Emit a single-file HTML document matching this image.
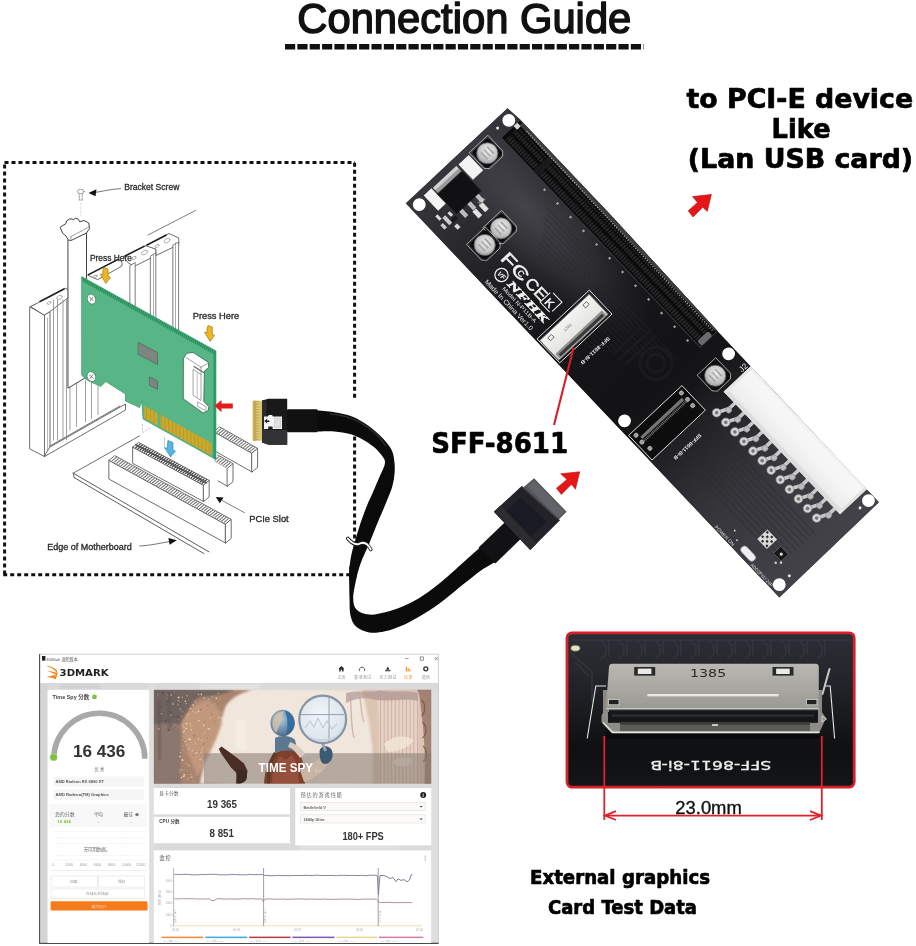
<!DOCTYPE html>
<html lang="en">
<head>
<meta charset="utf-8">
<title>Connection Guide</title>
<style>
html,body{margin:0;padding:0;background:#fff;}
body{width:916px;height:946px;overflow:hidden;font-family:"Liberation Sans","Noto Sans CJK SC",sans-serif;}
svg{display:block;will-change:transform;}
text{font-family:"Liberation Sans","Noto Sans CJK SC",sans-serif;}
.dj{font-family:"DejaVu Sans","Liberation Sans",sans-serif;font-weight:bold;}
</style>
</head>
<body>
<svg width="916" height="946" viewBox="0 0 916 946">
<rect x="0" y="0" width="916" height="946" fill="#ffffff"/>
<g id="box">
<g id="illus" stroke-linecap="round">
<line x1="148.0" y1="235.0" x2="195.5" y2="210.5" stroke="#5e5e5e" stroke-width="0.8" />
<polygon points="73.2,473.2 139.3,436.0 150.0,441.0 84.0,479.0" fill="#fff" stroke="none" stroke-width="0.9" stroke-linejoin="round" />
<line x1="73.2" y1="473.2" x2="139.3" y2="436.0" stroke="#5e5e5e" stroke-width="0.9" />
<line x1="73.2" y1="473.2" x2="208.9" y2="551.8" stroke="#5e5e5e" stroke-width="1.0" />
<line x1="74.2" y1="477.6" x2="204.0" y2="553.6" stroke="#5e5e5e" stroke-width="1.0" />
<line x1="73.2" y1="473.2" x2="74.2" y2="477.6" stroke="#5e5e5e" stroke-width="0.9" />
<polygon points="214.0,431.5 252.0,453.0 252.0,472.0 214.0,450.5" fill="#fff" stroke="#5e5e5e" stroke-width="0.9" stroke-linejoin="round" />
<polygon points="214.0,431.5 219.6,426.9 257.6,448.4 252.0,453.0" fill="#fff" stroke="#5e5e5e" stroke-width="0.9" stroke-linejoin="round" />
<polygon points="252.0,453.0 257.6,448.4 257.6,467.4 252.0,472.0" fill="#fff" stroke="#5e5e5e" stroke-width="0.9" stroke-linejoin="round" />
<line x1="216.8" y1="432.3" x2="221.2" y2="428.7" stroke="#707070" stroke-width="1.05" />
<line x1="219.1" y1="433.5" x2="223.5" y2="429.9" stroke="#707070" stroke-width="1.05" />
<line x1="221.3" y1="434.8" x2="225.7" y2="431.2" stroke="#707070" stroke-width="1.05" />
<line x1="223.5" y1="436.1" x2="227.9" y2="432.5" stroke="#707070" stroke-width="1.05" />
<line x1="225.8" y1="437.3" x2="230.2" y2="433.7" stroke="#707070" stroke-width="1.05" />
<line x1="228.0" y1="438.6" x2="232.4" y2="435.0" stroke="#707070" stroke-width="1.05" />
<line x1="230.2" y1="439.9" x2="234.6" y2="436.3" stroke="#707070" stroke-width="1.05" />
<line x1="232.5" y1="441.1" x2="236.9" y2="437.5" stroke="#707070" stroke-width="1.05" />
<line x1="234.7" y1="442.4" x2="239.1" y2="438.8" stroke="#707070" stroke-width="1.05" />
<line x1="237.0" y1="443.6" x2="241.4" y2="440.0" stroke="#707070" stroke-width="1.05" />
<line x1="239.2" y1="444.9" x2="243.6" y2="441.3" stroke="#707070" stroke-width="1.05" />
<line x1="241.4" y1="446.2" x2="245.8" y2="442.6" stroke="#707070" stroke-width="1.05" />
<line x1="243.7" y1="447.4" x2="248.1" y2="443.8" stroke="#707070" stroke-width="1.05" />
<line x1="245.9" y1="448.7" x2="250.3" y2="445.1" stroke="#707070" stroke-width="1.05" />
<line x1="248.1" y1="450.0" x2="252.5" y2="446.4" stroke="#707070" stroke-width="1.05" />
<line x1="250.4" y1="451.2" x2="254.8" y2="447.6" stroke="#707070" stroke-width="1.05" />
<polygon points="212.0,459.5 227.4,468.2 227.4,486.2 212.0,477.5" fill="#fff" stroke="none" stroke-width="0.9" stroke-linejoin="round" />
<line x1="215.0" y1="461.2" x2="227.4" y2="468.2" stroke="#5e5e5e" stroke-width="0.9" />
<line x1="218.0" y1="480.9" x2="227.4" y2="486.2" stroke="#5e5e5e" stroke-width="0.9" />
<polygon points="212.0,459.5 217.6,454.9 233.0,463.6 227.4,468.2" fill="#fff" stroke="none" stroke-width="0.9" stroke-linejoin="round" />
<line x1="217.6" y1="454.9" x2="233.0" y2="463.6" stroke="#5e5e5e" stroke-width="0.9" />
<polygon points="227.4,468.2 233.0,463.6 233.0,481.6 227.4,486.2" fill="#fff" stroke="#5e5e5e" stroke-width="0.9" stroke-linejoin="round" />
<line x1="214.8" y1="460.2" x2="219.2" y2="456.6" stroke="#707070" stroke-width="1.05" />
<line x1="217.0" y1="461.5" x2="221.4" y2="457.9" stroke="#707070" stroke-width="1.05" />
<line x1="219.2" y1="462.7" x2="223.6" y2="459.1" stroke="#707070" stroke-width="1.05" />
<line x1="221.4" y1="464.0" x2="225.8" y2="460.4" stroke="#707070" stroke-width="1.05" />
<line x1="223.6" y1="465.2" x2="228.0" y2="461.6" stroke="#707070" stroke-width="1.05" />
<line x1="225.8" y1="466.5" x2="230.2" y2="462.9" stroke="#707070" stroke-width="1.05" />
<polygon points="133.0,447.0 203.6,485.0 203.6,501.5 133.0,463.5" fill="#fff" stroke="#5e5e5e" stroke-width="0.9" stroke-linejoin="round" />
<polygon points="133.0,447.0 138.6,442.4 209.2,480.4 203.6,485.0" fill="#fff" stroke="#5e5e5e" stroke-width="0.9" stroke-linejoin="round" />
<polygon points="203.6,485.0 209.2,480.4 209.2,496.9 203.6,501.5" fill="#fff" stroke="#5e5e5e" stroke-width="0.9" stroke-linejoin="round" />
<line x1="135.7" y1="447.7" x2="140.1" y2="444.1" stroke="#3a3a3a" stroke-width="1.2" />
<line x1="137.9" y1="448.8" x2="142.3" y2="445.2" stroke="#3a3a3a" stroke-width="1.2" />
<line x1="140.0" y1="450.0" x2="144.4" y2="446.4" stroke="#3a3a3a" stroke-width="1.2" />
<line x1="142.2" y1="451.1" x2="146.6" y2="447.5" stroke="#3a3a3a" stroke-width="1.2" />
<line x1="144.3" y1="452.3" x2="148.7" y2="448.7" stroke="#3a3a3a" stroke-width="1.2" />
<line x1="146.4" y1="453.4" x2="150.8" y2="449.8" stroke="#3a3a3a" stroke-width="1.2" />
<line x1="148.6" y1="454.6" x2="153.0" y2="451.0" stroke="#3a3a3a" stroke-width="1.2" />
<line x1="150.7" y1="455.7" x2="155.1" y2="452.1" stroke="#3a3a3a" stroke-width="1.2" />
<line x1="152.9" y1="456.9" x2="157.3" y2="453.3" stroke="#3a3a3a" stroke-width="1.2" />
<line x1="155.0" y1="458.0" x2="159.4" y2="454.4" stroke="#3a3a3a" stroke-width="1.2" />
<line x1="157.1" y1="459.2" x2="161.5" y2="455.6" stroke="#3a3a3a" stroke-width="1.2" />
<line x1="159.3" y1="460.3" x2="163.7" y2="456.7" stroke="#3a3a3a" stroke-width="1.2" />
<line x1="161.4" y1="461.5" x2="165.8" y2="457.9" stroke="#3a3a3a" stroke-width="1.2" />
<line x1="163.6" y1="462.6" x2="168.0" y2="459.0" stroke="#3a3a3a" stroke-width="1.2" />
<line x1="165.7" y1="463.8" x2="170.1" y2="460.2" stroke="#3a3a3a" stroke-width="1.2" />
<line x1="167.8" y1="464.9" x2="172.2" y2="461.3" stroke="#3a3a3a" stroke-width="1.2" />
<line x1="170.0" y1="466.1" x2="174.4" y2="462.5" stroke="#3a3a3a" stroke-width="1.2" />
<line x1="172.1" y1="467.2" x2="176.5" y2="463.6" stroke="#3a3a3a" stroke-width="1.2" />
<line x1="174.2" y1="468.4" x2="178.6" y2="464.8" stroke="#3a3a3a" stroke-width="1.2" />
<line x1="176.4" y1="469.5" x2="180.8" y2="465.9" stroke="#3a3a3a" stroke-width="1.2" />
<line x1="178.5" y1="470.7" x2="182.9" y2="467.1" stroke="#3a3a3a" stroke-width="1.2" />
<line x1="180.7" y1="471.8" x2="185.1" y2="468.2" stroke="#3a3a3a" stroke-width="1.2" />
<line x1="182.8" y1="473.0" x2="187.2" y2="469.4" stroke="#3a3a3a" stroke-width="1.2" />
<line x1="184.9" y1="474.1" x2="189.3" y2="470.5" stroke="#3a3a3a" stroke-width="1.2" />
<line x1="187.1" y1="475.3" x2="191.5" y2="471.7" stroke="#3a3a3a" stroke-width="1.2" />
<line x1="189.2" y1="476.4" x2="193.6" y2="472.8" stroke="#3a3a3a" stroke-width="1.2" />
<line x1="191.4" y1="477.6" x2="195.8" y2="474.0" stroke="#3a3a3a" stroke-width="1.2" />
<line x1="193.5" y1="478.7" x2="197.9" y2="475.1" stroke="#3a3a3a" stroke-width="1.2" />
<line x1="195.6" y1="479.9" x2="200.0" y2="476.3" stroke="#3a3a3a" stroke-width="1.2" />
<line x1="197.8" y1="481.0" x2="202.2" y2="477.4" stroke="#3a3a3a" stroke-width="1.2" />
<line x1="199.9" y1="482.2" x2="204.3" y2="478.6" stroke="#3a3a3a" stroke-width="1.2" />
<line x1="202.1" y1="483.3" x2="206.5" y2="479.7" stroke="#3a3a3a" stroke-width="1.2" />
<line x1="135.8" y1="444.7" x2="206.4" y2="482.7" stroke="#555" stroke-width="1.6" />
<polygon points="109.2,460.2 225.6,524.0 225.6,543.0 109.2,479.2" fill="#fff" stroke="#5e5e5e" stroke-width="0.9" stroke-linejoin="round" />
<polygon points="109.2,460.2 114.8,455.6 231.2,519.4 225.6,524.0" fill="#fff" stroke="#5e5e5e" stroke-width="0.9" stroke-linejoin="round" />
<polygon points="225.6,524.0 231.2,519.4 231.2,538.4 225.6,543.0" fill="#fff" stroke="#5e5e5e" stroke-width="0.9" stroke-linejoin="round" />
<line x1="112.0" y1="460.9" x2="116.4" y2="457.3" stroke="#707070" stroke-width="1.05" />
<line x1="114.3" y1="462.2" x2="118.7" y2="458.6" stroke="#707070" stroke-width="1.05" />
<line x1="116.5" y1="463.4" x2="120.9" y2="459.8" stroke="#707070" stroke-width="1.05" />
<line x1="118.8" y1="464.6" x2="123.2" y2="461.0" stroke="#707070" stroke-width="1.05" />
<line x1="121.0" y1="465.8" x2="125.4" y2="462.2" stroke="#707070" stroke-width="1.05" />
<line x1="123.2" y1="467.1" x2="127.6" y2="463.5" stroke="#707070" stroke-width="1.05" />
<line x1="125.5" y1="468.3" x2="129.9" y2="464.7" stroke="#707070" stroke-width="1.05" />
<line x1="127.7" y1="469.5" x2="132.1" y2="465.9" stroke="#707070" stroke-width="1.05" />
<line x1="129.9" y1="470.7" x2="134.3" y2="467.1" stroke="#707070" stroke-width="1.05" />
<line x1="132.2" y1="472.0" x2="136.6" y2="468.4" stroke="#707070" stroke-width="1.05" />
<line x1="134.4" y1="473.2" x2="138.8" y2="469.6" stroke="#707070" stroke-width="1.05" />
<line x1="136.7" y1="474.4" x2="141.1" y2="470.8" stroke="#707070" stroke-width="1.05" />
<line x1="138.9" y1="475.6" x2="143.3" y2="472.0" stroke="#707070" stroke-width="1.05" />
<line x1="141.1" y1="476.9" x2="145.5" y2="473.3" stroke="#707070" stroke-width="1.05" />
<line x1="143.4" y1="478.1" x2="147.8" y2="474.5" stroke="#707070" stroke-width="1.05" />
<line x1="145.6" y1="479.3" x2="150.0" y2="475.7" stroke="#707070" stroke-width="1.05" />
<line x1="147.9" y1="480.6" x2="152.3" y2="477.0" stroke="#707070" stroke-width="1.05" />
<line x1="150.1" y1="481.8" x2="154.5" y2="478.2" stroke="#707070" stroke-width="1.05" />
<line x1="152.3" y1="483.0" x2="156.7" y2="479.4" stroke="#707070" stroke-width="1.05" />
<line x1="154.6" y1="484.2" x2="159.0" y2="480.6" stroke="#707070" stroke-width="1.05" />
<line x1="156.8" y1="485.5" x2="161.2" y2="481.9" stroke="#707070" stroke-width="1.05" />
<line x1="159.0" y1="486.7" x2="163.4" y2="483.1" stroke="#707070" stroke-width="1.05" />
<line x1="161.3" y1="487.9" x2="165.7" y2="484.3" stroke="#707070" stroke-width="1.05" />
<line x1="163.5" y1="489.1" x2="167.9" y2="485.5" stroke="#707070" stroke-width="1.05" />
<line x1="165.8" y1="490.4" x2="170.2" y2="486.8" stroke="#707070" stroke-width="1.05" />
<line x1="168.0" y1="491.6" x2="172.4" y2="488.0" stroke="#707070" stroke-width="1.05" />
<line x1="170.2" y1="492.8" x2="174.6" y2="489.2" stroke="#707070" stroke-width="1.05" />
<line x1="172.5" y1="494.1" x2="176.9" y2="490.5" stroke="#707070" stroke-width="1.05" />
<line x1="174.7" y1="495.3" x2="179.1" y2="491.7" stroke="#707070" stroke-width="1.05" />
<line x1="177.0" y1="496.5" x2="181.4" y2="492.9" stroke="#707070" stroke-width="1.05" />
<line x1="179.2" y1="497.7" x2="183.6" y2="494.1" stroke="#707070" stroke-width="1.05" />
<line x1="181.4" y1="499.0" x2="185.8" y2="495.4" stroke="#707070" stroke-width="1.05" />
<line x1="183.7" y1="500.2" x2="188.1" y2="496.6" stroke="#707070" stroke-width="1.05" />
<line x1="185.9" y1="501.4" x2="190.3" y2="497.8" stroke="#707070" stroke-width="1.05" />
<line x1="188.1" y1="502.6" x2="192.5" y2="499.0" stroke="#707070" stroke-width="1.05" />
<line x1="190.4" y1="503.9" x2="194.8" y2="500.3" stroke="#707070" stroke-width="1.05" />
<line x1="192.6" y1="505.1" x2="197.0" y2="501.5" stroke="#707070" stroke-width="1.05" />
<line x1="194.9" y1="506.3" x2="199.3" y2="502.7" stroke="#707070" stroke-width="1.05" />
<line x1="197.1" y1="507.6" x2="201.5" y2="503.9" stroke="#707070" stroke-width="1.05" />
<line x1="199.3" y1="508.8" x2="203.7" y2="505.2" stroke="#707070" stroke-width="1.05" />
<line x1="201.6" y1="510.0" x2="206.0" y2="506.4" stroke="#707070" stroke-width="1.05" />
<line x1="203.8" y1="511.2" x2="208.2" y2="507.6" stroke="#707070" stroke-width="1.05" />
<line x1="206.1" y1="512.5" x2="210.5" y2="508.9" stroke="#707070" stroke-width="1.05" />
<line x1="208.3" y1="513.7" x2="212.7" y2="510.1" stroke="#707070" stroke-width="1.05" />
<line x1="210.5" y1="514.9" x2="214.9" y2="511.3" stroke="#707070" stroke-width="1.05" />
<line x1="212.8" y1="516.1" x2="217.2" y2="512.5" stroke="#707070" stroke-width="1.05" />
<line x1="215.0" y1="517.4" x2="219.4" y2="513.8" stroke="#707070" stroke-width="1.05" />
<line x1="217.2" y1="518.6" x2="221.6" y2="515.0" stroke="#707070" stroke-width="1.05" />
<line x1="219.5" y1="519.8" x2="223.9" y2="516.2" stroke="#707070" stroke-width="1.05" />
<line x1="221.7" y1="521.0" x2="226.1" y2="517.4" stroke="#707070" stroke-width="1.05" />
<line x1="224.0" y1="522.3" x2="228.4" y2="518.7" stroke="#707070" stroke-width="1.05" />
<polygon points="30.0,307.0 35.5,304.0 50.0,311.5 50.0,452.0 44.5,456.5 30.0,449.0" fill="#fff" stroke="#5e5e5e" stroke-width="0.9" stroke-linejoin="round" />
<line x1="44.5" y1="315.0" x2="44.5" y2="456.5" stroke="#5e5e5e" stroke-width="0.9" />
<line x1="30.0" y1="307.0" x2="44.5" y2="315.0" stroke="#5e5e5e" stroke-width="0.9" />
<line x1="44.5" y1="315.0" x2="50.0" y2="311.5" stroke="#5e5e5e" stroke-width="0.9" />
<line x1="47.5" y1="318.0" x2="47.5" y2="452.0" stroke="#999" stroke-width="0.7" />
<polygon points="44.5,456.5 125.5,410.0 125.5,404.0 50.0,447.0" fill="#fff" stroke="#5e5e5e" stroke-width="0.9" stroke-linejoin="round" />
<line x1="50.0" y1="446.0" x2="120.0" y2="406.0" stroke="#5e5e5e" stroke-width="0.9" />
<polygon points="31.0,306.5 66.0,288.0 69.0,291.5 69.0,297.0 50.0,311.5 44.5,315.0" fill="#fff" stroke="#5e5e5e" stroke-width="0.9" stroke-linejoin="round" />
<line x1="40.0" y1="301.5" x2="64.0" y2="289.0" stroke="#222" stroke-width="1.5" />
<ellipse cx="59.5" cy="297.5" rx="3" ry="1.9" fill="#fff" stroke="#999" stroke-width="0.7" transform="rotate(-28 59.5 297.5)"/>
<ellipse cx="49" cy="303" rx="2" ry="1.2" fill="#fff" stroke="#999" stroke-width="0.7" transform="rotate(-28 49 303)"/>
<polygon points="88.0,275.0 118.5,259.5 122.0,262.0 122.0,266.0 98.0,279.5" fill="#fff" stroke="#5e5e5e" stroke-width="0.9" stroke-linejoin="round" />
<line x1="88.5" y1="274.6" x2="118.0" y2="259.4" stroke="#222" stroke-width="1.6" />
<ellipse cx="95" cy="276.5" rx="2.2" ry="1.2" fill="#fff" stroke="#888" stroke-width="0.7" transform="rotate(-28 95 276.5)"/>
<polygon points="124.0,256.5 147.0,245.0 156.0,249.5 156.0,255.5 135.0,266.0 129.0,263.5" fill="#fff" stroke="#5e5e5e" stroke-width="0.9" stroke-linejoin="round" />
<line x1="125.0" y1="256.0" x2="144.0" y2="246.4" stroke="#222" stroke-width="1.6" />
<ellipse cx="144.5" cy="252.5" rx="3.2" ry="2" fill="#fff" stroke="#999" stroke-width="0.7" transform="rotate(-28 144.5 252.5)"/>
<ellipse cx="134" cy="258" rx="2.2" ry="1.3" fill="#fff" stroke="#999" stroke-width="0.7" transform="rotate(-28 134 258)"/>
<polygon points="146.0,245.5 169.0,233.5 178.8,238.0 178.8,244.5 156.0,255.5 156.0,249.5" fill="#fff" stroke="#5e5e5e" stroke-width="0.9" stroke-linejoin="round" />
<line x1="147.0" y1="245.0" x2="166.0" y2="235.2" stroke="#222" stroke-width="1.6" />
<ellipse cx="167" cy="240.6" rx="3.2" ry="2" fill="#fff" stroke="#999" stroke-width="0.7" transform="rotate(-28 167 240.6)"/>
<ellipse cx="157" cy="246" rx="2.2" ry="1.3" fill="#fff" stroke="#999" stroke-width="0.7" transform="rotate(-28 157 246)"/>
<polygon points="130.2,265.5 135.2,262.5 135.2,309.0 130.2,306.2" fill="#fff" stroke="#5e5e5e" stroke-width="0.8" stroke-linejoin="round" />
<polygon points="150.7,256.0 155.8,253.0 155.8,320.4 150.7,317.5" fill="#fff" stroke="#5e5e5e" stroke-width="0.8" stroke-linejoin="round" />
<polygon points="173.2,245.0 178.6,242.0 178.6,333.0 173.2,330.0" fill="#fff" stroke="#5e5e5e" stroke-width="0.8" stroke-linejoin="round" />
<line x1="175.5" y1="243.0" x2="175.5" y2="330.0" stroke="#888" stroke-width="0.7" />
<line x1="153.5" y1="255.0" x2="153.5" y2="318.0" stroke="#888" stroke-width="0.7" />
<line x1="53.5" y1="300.0" x2="53.5" y2="440.0" stroke="#888" stroke-width="0.8" />
<line x1="57.5" y1="300.0" x2="57.5" y2="440.0" stroke="#888" stroke-width="0.8" />
<line x1="63.0" y1="300.0" x2="63.0" y2="440.0" stroke="#888" stroke-width="0.8" />
<line x1="66.5" y1="300.0" x2="66.5" y2="440.0" stroke="#888" stroke-width="0.8" />
<line x1="70.0" y1="380.0" x2="70.0" y2="430.0" stroke="#888" stroke-width="0.8" />
<line x1="76.5" y1="380.0" x2="76.5" y2="426.4" stroke="#888" stroke-width="0.8" />
<line x1="85.5" y1="380.0" x2="85.5" y2="421.5" stroke="#888" stroke-width="0.8" />
<line x1="91.5" y1="380.0" x2="91.5" y2="418.2" stroke="#888" stroke-width="0.8" />
<line x1="98.0" y1="380.0" x2="98.0" y2="414.6" stroke="#888" stroke-width="0.8" />
<polygon points="68.3,240.0 86.5,233.0 86.5,377.0 80.0,381.0 68.3,388.0" fill="#fff" stroke="#444" stroke-width="1.0" stroke-linejoin="round" />
<path d="M60.5,227 L66,223.5 L66.5,221 L70,218.8 L73.5,219.5 L75.5,218.2 L78.5,219.3 L79.5,221.8 L84,220.5 L88.8,223 L89.5,228.5 L86.5,233 L71,240.5 L68.3,240 L66,236 L63,233.5 Z" fill="#fff" stroke="#444" stroke-width="1"/>
<line x1="71.0" y1="240.5" x2="71.0" y2="236.5" stroke="#777" stroke-width="0.7" />
<line x1="71.0" y1="236.5" x2="89.0" y2="227.0" stroke="#777" stroke-width="0.7" />
<ellipse cx="80.8" cy="191.5" rx="3.3" ry="2.2" fill="#fff" stroke="#888" stroke-width="0.8"/>
<path d="M79.3,193.5 V200 M82.3,193.5 V200 M79.3,200 H82.3" fill="none" stroke="#999" stroke-width="0.8"/>
<line x1="80.8" y1="203.0" x2="80.8" y2="216.0" stroke="#ccc" stroke-width="0.7" stroke-dasharray="2 2"/>
<path d="M120.5,188.6 C112,189 104,191 96,192.3" fill="none" stroke="#555" stroke-width="0.8"/>
<polygon points="88.5,193 96.5,189.3 95.5,196.3" fill="#111"/>
<polygon points="81.9,276.8 215.9,350.9 215.9,459.5 143.1,419.0 141.9,401.5 139.5,407.5 125.5,401.0 125.5,394.0 105.8,381.5 100.8,386.5 88.0,380.5 81.9,375.5" fill="#58b585" stroke="#3f9f72" stroke-width="0.8" stroke-linejoin="round" />
<polygon points="81.9,276.8 215.9,350.9 215.9,355.9 81.9,281.8" fill="#48b07c" stroke="none" stroke-width="0.9" stroke-linejoin="round" />
<line x1="83.0" y1="278.0" x2="84.2" y2="282.0" stroke="#2a8c58" stroke-width="1.1" />
<line x1="85.2" y1="279.2" x2="86.4" y2="283.2" stroke="#2a8c58" stroke-width="1.1" />
<line x1="87.3" y1="280.4" x2="88.5" y2="284.4" stroke="#2a8c58" stroke-width="1.1" />
<line x1="89.5" y1="281.6" x2="90.7" y2="285.6" stroke="#2a8c58" stroke-width="1.1" />
<line x1="91.6" y1="282.8" x2="92.8" y2="286.8" stroke="#2a8c58" stroke-width="1.1" />
<line x1="93.8" y1="284.0" x2="95.0" y2="288.0" stroke="#2a8c58" stroke-width="1.1" />
<line x1="95.9" y1="285.1" x2="97.1" y2="289.1" stroke="#2a8c58" stroke-width="1.1" />
<line x1="98.0" y1="286.3" x2="99.2" y2="290.3" stroke="#2a8c58" stroke-width="1.1" />
<line x1="100.2" y1="287.5" x2="101.4" y2="291.5" stroke="#2a8c58" stroke-width="1.1" />
<line x1="102.3" y1="288.7" x2="103.5" y2="292.7" stroke="#2a8c58" stroke-width="1.1" />
<line x1="104.5" y1="289.9" x2="105.7" y2="293.9" stroke="#2a8c58" stroke-width="1.1" />
<line x1="106.7" y1="291.1" x2="107.9" y2="295.1" stroke="#2a8c58" stroke-width="1.1" />
<line x1="108.8" y1="292.3" x2="110.0" y2="296.3" stroke="#2a8c58" stroke-width="1.1" />
<line x1="111.0" y1="293.5" x2="112.2" y2="297.5" stroke="#2a8c58" stroke-width="1.1" />
<line x1="113.1" y1="294.7" x2="114.3" y2="298.7" stroke="#2a8c58" stroke-width="1.1" />
<line x1="115.2" y1="295.8" x2="116.5" y2="299.8" stroke="#2a8c58" stroke-width="1.1" />
<line x1="117.4" y1="297.0" x2="118.6" y2="301.0" stroke="#2a8c58" stroke-width="1.1" />
<line x1="119.5" y1="298.2" x2="120.8" y2="302.2" stroke="#2a8c58" stroke-width="1.1" />
<line x1="121.7" y1="299.4" x2="122.9" y2="303.4" stroke="#2a8c58" stroke-width="1.1" />
<line x1="123.8" y1="300.6" x2="125.0" y2="304.6" stroke="#2a8c58" stroke-width="1.1" />
<line x1="126.0" y1="301.8" x2="127.2" y2="305.8" stroke="#2a8c58" stroke-width="1.1" />
<line x1="128.2" y1="303.0" x2="129.3" y2="307.0" stroke="#2a8c58" stroke-width="1.1" />
<line x1="130.3" y1="304.2" x2="131.5" y2="308.2" stroke="#2a8c58" stroke-width="1.1" />
<line x1="132.4" y1="305.4" x2="133.6" y2="309.4" stroke="#2a8c58" stroke-width="1.1" />
<line x1="134.6" y1="306.5" x2="135.8" y2="310.5" stroke="#2a8c58" stroke-width="1.1" />
<line x1="136.8" y1="307.7" x2="137.9" y2="311.7" stroke="#2a8c58" stroke-width="1.1" />
<line x1="138.9" y1="308.9" x2="140.1" y2="312.9" stroke="#2a8c58" stroke-width="1.1" />
<line x1="141.1" y1="310.1" x2="142.2" y2="314.1" stroke="#2a8c58" stroke-width="1.1" />
<line x1="143.2" y1="311.3" x2="144.4" y2="315.3" stroke="#2a8c58" stroke-width="1.1" />
<line x1="145.3" y1="312.5" x2="146.5" y2="316.5" stroke="#2a8c58" stroke-width="1.1" />
<line x1="147.5" y1="313.7" x2="148.7" y2="317.7" stroke="#2a8c58" stroke-width="1.1" />
<line x1="149.6" y1="314.9" x2="150.8" y2="318.9" stroke="#2a8c58" stroke-width="1.1" />
<line x1="151.8" y1="316.1" x2="153.0" y2="320.1" stroke="#2a8c58" stroke-width="1.1" />
<line x1="153.9" y1="317.2" x2="155.1" y2="321.2" stroke="#2a8c58" stroke-width="1.1" />
<line x1="156.1" y1="318.4" x2="157.3" y2="322.4" stroke="#2a8c58" stroke-width="1.1" />
<line x1="158.2" y1="319.6" x2="159.4" y2="323.6" stroke="#2a8c58" stroke-width="1.1" />
<line x1="160.4" y1="320.8" x2="161.6" y2="324.8" stroke="#2a8c58" stroke-width="1.1" />
<line x1="162.6" y1="322.0" x2="163.8" y2="326.0" stroke="#2a8c58" stroke-width="1.1" />
<line x1="164.7" y1="323.2" x2="165.9" y2="327.2" stroke="#2a8c58" stroke-width="1.1" />
<line x1="166.8" y1="324.4" x2="168.0" y2="328.4" stroke="#2a8c58" stroke-width="1.1" />
<line x1="169.0" y1="325.6" x2="170.2" y2="329.6" stroke="#2a8c58" stroke-width="1.1" />
<line x1="171.1" y1="326.8" x2="172.3" y2="330.8" stroke="#2a8c58" stroke-width="1.1" />
<line x1="173.3" y1="327.9" x2="174.5" y2="331.9" stroke="#2a8c58" stroke-width="1.1" />
<line x1="175.4" y1="329.1" x2="176.6" y2="333.1" stroke="#2a8c58" stroke-width="1.1" />
<line x1="177.6" y1="330.3" x2="178.8" y2="334.3" stroke="#2a8c58" stroke-width="1.1" />
<line x1="179.8" y1="331.5" x2="180.9" y2="335.5" stroke="#2a8c58" stroke-width="1.1" />
<line x1="181.9" y1="332.7" x2="183.1" y2="336.7" stroke="#2a8c58" stroke-width="1.1" />
<line x1="184.1" y1="333.9" x2="185.2" y2="337.9" stroke="#2a8c58" stroke-width="1.1" />
<line x1="186.2" y1="335.1" x2="187.4" y2="339.1" stroke="#2a8c58" stroke-width="1.1" />
<line x1="188.3" y1="336.3" x2="189.5" y2="340.3" stroke="#2a8c58" stroke-width="1.1" />
<line x1="190.5" y1="337.5" x2="191.7" y2="341.5" stroke="#2a8c58" stroke-width="1.1" />
<line x1="192.6" y1="338.6" x2="193.8" y2="342.6" stroke="#2a8c58" stroke-width="1.1" />
<line x1="194.8" y1="339.8" x2="196.0" y2="343.8" stroke="#2a8c58" stroke-width="1.1" />
<line x1="196.9" y1="341.0" x2="198.1" y2="345.0" stroke="#2a8c58" stroke-width="1.1" />
<line x1="199.1" y1="342.2" x2="200.3" y2="346.2" stroke="#2a8c58" stroke-width="1.1" />
<line x1="201.2" y1="343.4" x2="202.4" y2="347.4" stroke="#2a8c58" stroke-width="1.1" />
<line x1="203.4" y1="344.6" x2="204.6" y2="348.6" stroke="#2a8c58" stroke-width="1.1" />
<line x1="205.6" y1="345.8" x2="206.8" y2="349.8" stroke="#2a8c58" stroke-width="1.1" />
<line x1="207.7" y1="347.0" x2="208.9" y2="351.0" stroke="#2a8c58" stroke-width="1.1" />
<line x1="209.8" y1="348.2" x2="211.0" y2="352.2" stroke="#2a8c58" stroke-width="1.1" />
<line x1="212.0" y1="349.3" x2="213.2" y2="353.3" stroke="#2a8c58" stroke-width="1.1" />
<line x1="214.2" y1="350.5" x2="215.3" y2="354.5" stroke="#2a8c58" stroke-width="1.1" />
<polygon points="213.4,351.5 215.9,350.9 215.9,459.5 213.4,458.2" fill="#2f9a66" stroke="none" stroke-width="0.9" stroke-linejoin="round" />
<polygon points="144.3,405.7 157.5,413.0 157.5,425.5 144.3,418.2" fill="#c9aa2e" stroke="none" stroke-width="0.9" stroke-linejoin="round" />
<polygon points="160.5,414.7 211.5,443.1 211.5,455.6 160.5,427.2" fill="#c9aa2e" stroke="none" stroke-width="0.9" stroke-linejoin="round" />
<line x1="146.5" y1="407.4" x2="146.5" y2="418.9" stroke="#b09324" stroke-width="0.7" />
<line x1="150.2" y1="409.4" x2="150.2" y2="420.9" stroke="#b09324" stroke-width="0.7" />
<line x1="153.9" y1="411.5" x2="153.9" y2="423.0" stroke="#b09324" stroke-width="0.7" />
<line x1="161.3" y1="415.6" x2="161.3" y2="427.1" stroke="#b09324" stroke-width="0.7" />
<line x1="165.0" y1="417.7" x2="165.0" y2="429.2" stroke="#b09324" stroke-width="0.7" />
<line x1="168.7" y1="419.7" x2="168.7" y2="431.2" stroke="#b09324" stroke-width="0.7" />
<line x1="172.4" y1="421.8" x2="172.4" y2="433.3" stroke="#b09324" stroke-width="0.7" />
<line x1="176.1" y1="423.9" x2="176.1" y2="435.4" stroke="#b09324" stroke-width="0.7" />
<line x1="179.8" y1="425.9" x2="179.8" y2="437.4" stroke="#b09324" stroke-width="0.7" />
<line x1="183.5" y1="428.0" x2="183.5" y2="439.5" stroke="#b09324" stroke-width="0.7" />
<line x1="187.2" y1="430.0" x2="187.2" y2="441.5" stroke="#b09324" stroke-width="0.7" />
<line x1="190.9" y1="432.1" x2="190.9" y2="443.6" stroke="#b09324" stroke-width="0.7" />
<line x1="194.6" y1="434.2" x2="194.6" y2="445.7" stroke="#b09324" stroke-width="0.7" />
<line x1="198.3" y1="436.2" x2="198.3" y2="447.7" stroke="#b09324" stroke-width="0.7" />
<line x1="202.0" y1="438.3" x2="202.0" y2="449.8" stroke="#b09324" stroke-width="0.7" />
<line x1="205.7" y1="440.3" x2="205.7" y2="451.8" stroke="#b09324" stroke-width="0.7" />
<line x1="209.4" y1="442.4" x2="209.4" y2="453.9" stroke="#b09324" stroke-width="0.7" />
<ellipse cx="91.5" cy="299.1" rx="4.2" ry="5.2" fill="#fff" stroke="#3c8f68" stroke-width="0.8" transform="rotate(-25 91.5 299.1)"/>
<path d="M89.7,297.5 L93.3,300.70000000000005 M90.3,300.90000000000003 L92.7,297.3" stroke="#666" stroke-width="0.8" fill="none"/>
<ellipse cx="91.4" cy="376.6" rx="4.2" ry="5.2" fill="#fff" stroke="#3c8f68" stroke-width="0.8" transform="rotate(-25 91.4 376.6)"/>
<path d="M89.60000000000001,375.0 L93.2,378.20000000000005 M90.2,378.40000000000003 L92.60000000000001,374.8" stroke="#666" stroke-width="0.8" fill="none"/>
<polygon points="138.5,342.5 157.5,352.5 157.5,364.5 138.5,354.5" fill="#7d8580" stroke="#55695e" stroke-width="0.8" stroke-linejoin="round" />
<polygon points="149.8,377.0 157.5,381.0 157.5,389.5 149.8,385.5" fill="#7d8580" stroke="#55695e" stroke-width="0.8" stroke-linejoin="round" />
<polygon points="183.5,358.4 186.6,353.3 193.0,352.3 208.2,362.2 208.9,367.3 204.4,371.1 203.8,401.5 208.9,406.6 208.2,410.4 203.1,413.0 183.5,399.0" fill="#fff" stroke="#3d7f5e" stroke-width="1.0" stroke-linejoin="round" />
<polygon points="193.4,369.5 201.0,374.5 201.0,400.5 193.4,395.5" fill="#fff" stroke="#8a8a8a" stroke-width="0.8" stroke-linejoin="round" />
<line x1="197.2" y1="373.0" x2="197.2" y2="397.0" stroke="#b5b5b5" stroke-width="0.9" stroke-dasharray="1 0.8"/>
<line x1="186.0" y1="357.5" x2="201.0" y2="367.2" stroke="#8a8a8a" stroke-width="0.8" />
<line x1="201.0" y1="367.2" x2="207.5" y2="363.5" stroke="#8a8a8a" stroke-width="0.8" />
<line x1="194.0" y1="366.5" x2="203.5" y2="372.5" stroke="#666" stroke-width="1.2" />
<line x1="201.0" y1="367.2" x2="201.0" y2="374.5" stroke="#8a8a8a" stroke-width="0.8" />
<polygon points="198.0,402.0 206.5,407.0 205.5,410.5 198.0,406.5" fill="#fff" stroke="#8a8a8a" stroke-width="0.7" stroke-linejoin="round" />
</g>
<polygon points="214.5,405.8 221.5,400 221.5,403.6 232.8,403.6 232.8,408.6 221.5,408.6 221.5,412.2" fill="#e21d1d"/>
<path d="M103.8,267.5 L108.1,269.0 L108.1,276.5 L110.5,277.3 L105.8,283.5 L100.3,274.0 L102.8,274.7 L102.8,270.5 Z" fill="#f0b51f" stroke="#8a6a1c" stroke-width="0.6"/>
<path d="M208.0,325.5 L212.3,327.0 L212.3,334.5 L214.7,335.3 L210.0,341.5 L204.5,332.0 L207.0,332.7 L207.0,328.5 Z" fill="#f0b51f" stroke="#8a6a1c" stroke-width="0.6"/>
<path d="M168,440.5 L173,442.5 L173,450.0 L175.5,451.0 L170.5,457.0 L164.5,447.5 L167.5,448.3 L167.5,443.5 Z" fill="#58b4e3" stroke="#2f7fae" stroke-width="0.6"/>
<line x1="164.5" y1="437.0" x2="164.5" y2="449.0" stroke="#bbb" stroke-width="0.7" />
<path d="M142.5,424 V432.5 L150.5,428" fill="none" stroke="#bbb" stroke-width="0.8" stroke-dasharray="2.5 1.5"/>
<line x1="244.9" y1="512.9" x2="221.5" y2="500.2" stroke="#5e5e5e" stroke-width="0.8" />
<polygon points="215.8,497 223.6,497.6 219.8,503.2" fill="#111"/>
<path d="M139.3,546 C150,545.6 160,543.2 169,541.6" fill="none" stroke="#555" stroke-width="0.8"/>
<polygon points="176.8,540.2 169.6,544.8 168.4,538" fill="#111"/>
<g font-size="8.6" fill="#2a2a2a" stroke="#2a2a2a" stroke-width="0.3">
<text x="124.3" y="190.4" textLength="55" lengthAdjust="spacingAndGlyphs">Bracket Screw</text>
<text x="89.9" y="261.4" textLength="42" lengthAdjust="spacingAndGlyphs">Press Here</text>
<text x="192.7" y="319.2" textLength="46.5" lengthAdjust="spacingAndGlyphs">Press Here</text>
<text x="249.2" y="521.6" textLength="39.5" lengthAdjust="spacingAndGlyphs">PCIe Slot</text>
<text x="47.2" y="550" textLength="84.5" lengthAdjust="spacingAndGlyphs">Edge of Motherboard</text>
</g>
<g fill="none" stroke="#111" stroke-width="3" stroke-dasharray="4 3">
<path d="M4.5,162.6 H355"/>
<path d="M4.6,164.6 V574"/>
<path d="M3.2,574.7 H351"/>
<path d="M354.6,162.8 V400"/>
<path d="M354.6,436.6 V575"/>
</g>
</g>
<defs>
<radialGradient id="capg" cx="0.45" cy="0.4" r="0.7"><stop offset="0" stop-color="#efefef"/><stop offset="0.6" stop-color="#c4c4c4"/><stop offset="1" stop-color="#8c8c8c"/></radialGradient>
<linearGradient id="pcbg" x1="0" y1="0" x2="1" y2="0"><stop offset="0" stop-color="#37373c"/><stop offset="0.12" stop-color="#2a2a2e"/><stop offset="0.3" stop-color="#18181b"/><stop offset="0.55" stop-color="#131315"/><stop offset="0.75" stop-color="#1e1e21"/><stop offset="1" stop-color="#2a2a2e"/></linearGradient>
<linearGradient id="atxg" x1="0" y1="0" x2="0" y2="1"><stop offset="0" stop-color="#ededed"/><stop offset="0.12" stop-color="#f7f7f7"/><stop offset="0.5" stop-color="#f4f4f4"/><stop offset="0.85" stop-color="#ececec"/><stop offset="1" stop-color="#e2e2e2"/></linearGradient>
<linearGradient id="sffg" x1="0" y1="0" x2="1" y2="0"><stop offset="0" stop-color="#f4f4f2"/><stop offset="0.7" stop-color="#e6e6e3"/><stop offset="1" stop-color="#bdbdb8"/></linearGradient>
<pattern id="slotpins" width="3" height="8" patternUnits="userSpaceOnUse"><rect width="3" height="8" fill="#0b0b0c"/><rect x="0.4" y="0.6" width="1.5" height="6.4" fill="#2e2e30"/></pattern>
<radialGradient id="pcbhl" cx="0.5" cy="0.5" r="0.5"><stop offset="0" stop-color="#45454b" stop-opacity="0.95"/><stop offset="0.55" stop-color="#3a3a40" stop-opacity="0.6"/><stop offset="1" stop-color="#2a2a2e" stop-opacity="0"/></radialGradient>
<clipPath id="pcbclip"><polygon points="0,0 17,-1.3 150,-1.3 306.5,1.3 541.8,2 543.3,139.8 0,139.5"/></clipPath>
<linearGradient id="pcbhr" x1="0" y1="0" x2="1" y2="0"><stop offset="0" stop-color="#3e3d43" stop-opacity="0"/><stop offset="0.5" stop-color="#3e3d43" stop-opacity="0.75"/><stop offset="1" stop-color="#444349" stop-opacity="1"/></linearGradient>
</defs>
<g id="pcb" transform="matrix(0.68834 0.72539 -0.73039 0.68303 507.4 107.9)" clip-path="url(#pcbclip)">
<rect x="-2.0" y="-3.0" width="550.0" height="146.0" fill="url(#pcbg)" />
<rect x="330" y="-3" width="220" height="146" fill="url(#pcbhr)"/>
<ellipse cx="85" cy="55" rx="175" ry="58" fill="url(#pcbhl)"/>
<g stroke="#2a2a2e" stroke-width="1.1" fill="none" opacity="0.45">
<path d="M100,40.0 H180 l12,10 H300"/>
<path d="M103,44.2 H178 l12,10 H295"/>
<path d="M106,48.4 H176 l12,10 H290"/>
<path d="M109,52.6 H174 l12,10 H285"/>
<path d="M112,56.8 H172 l12,10 H280"/>
<path d="M115,61.0 H170 l12,10 H275"/>
<path d="M118,65.2 H168 l12,10 H270"/>
<path d="M121,69.4 H166 l12,10 H265"/>
<path d="M124,73.6 H164 l12,10 H260"/>
<path d="M127,77.80000000000001 H162 l12,10 H255"/>
<path d="M130,82.0 H160 l12,10 H250"/>
<path d="M133,86.2 H158 l12,10 H245"/>
<path d="M136,90.4 H156 l12,10 H240"/>
<path d="M139,94.6 H154 l12,10 H235"/>
<path d="M360,70 H520"/>
<path d="M364,75 H520"/>
<path d="M368,80 H520"/>
<path d="M372,85 H520"/>
<path d="M376,90 H520"/>
<path d="M380,95 H520"/>
<path d="M384,100 H520"/>
<path d="M388,105 H520"/>
<path d="M392,110 H520"/>
<path d="M396,115 H520"/>
</g>
<g fill="none" stroke="#1c1c20" stroke-width="3" opacity="0.9"><circle cx="288" cy="68" r="9"/><circle cx="288" cy="68" r="16"/><path d="M252,52 v40 M260,48 v46 M268,50 v40"/></g>
<circle cx="10.0" cy="7.5" r="6.4" fill="#ffffff" />
<circle cx="10.5" cy="130.5" r="6.4" fill="#ffffff" />
<circle cx="330.7" cy="8.8" r="6.4" fill="#ffffff" />
<circle cx="308.6" cy="130.5" r="6.4" fill="#ffffff" />
<circle cx="533.5" cy="8.4" r="6.4" fill="#ffffff" />
<circle cx="534.0" cy="131.0" r="6.4" fill="#ffffff" />
<circle cx="8.0" cy="21.0" r="1.5" fill="#e8e8e8" />
<circle cx="9.0" cy="118.5" r="1.5" fill="#e8e8e8" />
<circle cx="533.0" cy="19.5" r="1.5" fill="#e8e8e8" />
<circle cx="534.3" cy="117.6" r="1.5" fill="#e8e8e8" />
<rect x="17.5" y="-0.6" width="289.0" height="25.6" fill="#0a0a0b" stroke="#3a3a3d" stroke-width="1"/>
<rect x="21.0" y="-0.6" width="284.0" height="3.6" fill="#3e3e41" />
<line x1="30" y1="2.2" x2="303" y2="4.4" stroke="#b5b5b5" stroke-width="1.5" stroke-dasharray="1.2 1.6" opacity="0.85"/>
<rect x="22.0" y="5.2" width="42.0" height="8.2" fill="url(#slotpins)" />
<rect x="22.0" y="15.2" width="42.0" height="8.2" fill="url(#slotpins)" />
<rect x="70.0" y="5.2" width="229.0" height="8.2" fill="url(#slotpins)" />
<rect x="70.0" y="15.2" width="229.0" height="8.2" fill="url(#slotpins)" />
<rect x="63.5" y="3.5" width="6.5" height="21.0" fill="#1a1a1c" />
<rect x="300.0" y="8.0" width="6.5" height="15.0" fill="#6a6a6e" rx="2"/>
<rect x="17.5" y="3.0" width="5.0" height="5.0" fill="#d9d9d9" />
<rect x="84.0" y="28.3" width="2.2" height="2.2" fill="#a5a5a5" />
<rect x="102.9" y="28.3" width="2.2" height="2.2" fill="#a5a5a5" />
<rect x="121.8" y="28.3" width="2.2" height="2.2" fill="#a5a5a5" />
<rect x="140.7" y="28.3" width="2.2" height="2.2" fill="#a5a5a5" />
<rect x="159.6" y="28.3" width="2.2" height="2.2" fill="#a5a5a5" />
<rect x="178.5" y="28.3" width="2.2" height="2.2" fill="#a5a5a5" />
<rect x="197.4" y="28.3" width="2.2" height="2.2" fill="#a5a5a5" />
<rect x="216.3" y="28.3" width="2.2" height="2.2" fill="#a5a5a5" />
<rect x="235.2" y="28.3" width="2.2" height="2.2" fill="#a5a5a5" />
<rect x="254.1" y="28.3" width="2.2" height="2.2" fill="#a5a5a5" />
<rect x="273.0" y="28.3" width="2.2" height="2.2" fill="#a5a5a5" />
<rect x="291.9" y="28.3" width="2.2" height="2.2" fill="#a5a5a5" />
<path d="M6.599999999999998,33.0 H28.200000000000003 L32.2,37.0 V54.599999999999994 L28.200000000000003,58.599999999999994 H6.599999999999998 Z" fill="none" stroke="#cfcfcf" stroke-width="0.7"/>
<rect x="8.2" y="34.6" width="22.4" height="22.4" fill="#0c0c0d" rx="3"/>
<circle cx="19.4" cy="45.8" r="10.6" fill="url(#capg)" stroke="#5d5d5d" stroke-width="0.8"/>
<rect x="14.6" y="40.5" width="9.5" height="1.7" fill="#8a8a8a" opacity="0.7"/>
<rect x="14.6" y="44.7" width="9.5" height="1.7" fill="#8a8a8a" opacity="0.6"/>
<rect x="14.6" y="49.0" width="9.5" height="1.7" fill="#8a8a8a" opacity="0.6"/>
<path d="M70.8,74.8 H92.39999999999999 L96.39999999999999,78.8 V96.39999999999999 L92.39999999999999,100.39999999999999 H70.8 Z" fill="none" stroke="#cfcfcf" stroke-width="0.7"/>
<rect x="72.4" y="76.4" width="22.4" height="22.4" fill="#0c0c0d" rx="3"/>
<circle cx="83.6" cy="87.6" r="10.6" fill="url(#capg)" stroke="#5d5d5d" stroke-width="0.8"/>
<rect x="78.8" y="82.3" width="9.5" height="1.7" fill="#8a8a8a" opacity="0.7"/>
<rect x="78.8" y="86.5" width="9.5" height="1.7" fill="#8a8a8a" opacity="0.6"/>
<rect x="78.8" y="90.8" width="9.5" height="1.7" fill="#8a8a8a" opacity="0.6"/>
<path d="M71.8,98.0 H93.39999999999999 L97.39999999999999,102.0 V119.6 L93.39999999999999,123.6 H71.8 Z" fill="none" stroke="#cfcfcf" stroke-width="0.7"/>
<rect x="73.4" y="99.6" width="22.4" height="22.4" fill="#0c0c0d" rx="3"/>
<circle cx="84.6" cy="110.8" r="10.6" fill="url(#capg)" stroke="#5d5d5d" stroke-width="0.8"/>
<rect x="79.8" y="105.5" width="9.5" height="1.7" fill="#8a8a8a" opacity="0.7"/>
<rect x="79.8" y="109.7" width="9.5" height="1.7" fill="#8a8a8a" opacity="0.6"/>
<rect x="79.8" y="114.0" width="9.5" height="1.7" fill="#8a8a8a" opacity="0.6"/>
<path d="M324.8,20.8 H346.40000000000003 L350.40000000000003,24.8 V42.400000000000006 L346.40000000000003,46.400000000000006 H324.8 Z" fill="none" stroke="#cfcfcf" stroke-width="0.7"/>
<rect x="326.4" y="22.4" width="22.4" height="22.4" fill="#0c0c0d" rx="3"/>
<circle cx="337.6" cy="33.6" r="10.6" fill="url(#capg)" stroke="#5d5d5d" stroke-width="0.8"/>
<rect x="332.8" y="28.3" width="9.5" height="1.7" fill="#8a8a8a" opacity="0.7"/>
<rect x="332.8" y="32.5" width="9.5" height="1.7" fill="#8a8a8a" opacity="0.6"/>
<rect x="332.8" y="36.8" width="9.5" height="1.7" fill="#8a8a8a" opacity="0.6"/>
<rect x="8.0" y="60.5" width="21.0" height="14.0" fill="#f4f4f4" />
<rect x="6.8" y="110.5" width="21.0" height="10.5" fill="#f4f4f4" />
<rect x="7.5" y="77.0" width="9.5" height="32.0" fill="#9b9b9b" />
<rect x="7.5" y="77.0" width="3.5" height="32.0" fill="#d0d0d0" />
<rect x="15.0" y="76.0" width="28.0" height="34.0" fill="#111113" stroke="#2c2c2f" stroke-width="0.8"/>
<rect x="43.0" y="80.0" width="8.5" height="4.4" fill="#bdbdbd" />
<rect x="43.0" y="91.0" width="8.5" height="4.4" fill="#bdbdbd" />
<rect x="43.0" y="102.0" width="8.5" height="4.4" fill="#bdbdbd" />
<rect x="52.0" y="83.0" width="9.0" height="5.0" fill="#e2e2e2" />
<rect x="52.0" y="92.0" width="9.0" height="5.0" fill="#e2e2e2" />
<rect x="36.0" y="113.0" width="5.0" height="3.0" fill="#ddd" />
<rect x="43.0" y="112.0" width="4.0" height="7.0" fill="#1a1a1a" />
<rect x="36.0" y="119.0" width="10.0" height="4.0" fill="#ccc" />
<rect x="30.0" y="124.0" width="6.0" height="3.0" fill="#ddd" />
<rect x="40.0" y="126.0" width="6.0" height="3.5" fill="#ccc" />
<rect x="50.0" y="116.0" width="5.0" height="4.0" fill="#d8d8d8" />
<rect x="56.0" y="104.0" width="4.0" height="4.0" fill="#2a2a2a" />
<rect x="62.0" y="120.0" width="4.0" height="4.0" fill="#2a2a2a" />
<text x="49" y="79" font-size="4.5" fill="#ddd" transform="rotate(90 49 79)">UL2</text>
<g transform="translate(105 102) scale(0.93) translate(-105 -102)">
<g fill="#f2f2f2" style="font-family:'DejaVu Sans',sans-serif">
<text x="105" y="110.5" font-size="19" textLength="35" lengthAdjust="spacingAndGlyphs" stroke="#f2f2f2" stroke-width="0.5">FC</text>
<text x="128.6" y="107.6" font-size="9.5" font-weight="bold">C</text>
<text x="142.5" y="109.6" font-size="17" textLength="26" lengthAdjust="spacingAndGlyphs" stroke="#f2f2f2" stroke-width="0.5">CE</text>
<text x="171.6" y="108.4" font-size="13" font-weight="bold">K</text>
</g>
<path d="M168.6,95.5 V110.6 H183.6 M171,93.6 H184.8 V108" fill="none" stroke="#f2f2f2" stroke-width="1.1"/>
</g>
<circle cx="118" cy="119.3" r="6.6" fill="none" stroke="#f2f2f2" stroke-width="1.2"/>
<text x="114" y="122" font-size="7" fill="#f2f2f2" font-weight="bold" font-style="italic">VF</text>
<text x="128.6" y="122" font-size="10.5" font-weight="bold" font-style="italic" fill="#f2f2f2" stroke="#f2f2f2" stroke-width="0.5" textLength="53.5" lengthAdjust="spacingAndGlyphs" style="font-family:'Liberation Serif',serif">NFHK</text>
<text x="128.5" y="128.6" font-size="5.4" fill="#e8e8e8" textLength="47" lengthAdjust="spacingAndGlyphs">Model N-P11B-A</text>
<text x="111.4" y="136.8" font-size="6.6" fill="#e8e8e8" textLength="67" lengthAdjust="spacingAndGlyphs">Made In China Ver1.0</text>
<rect x="189.0" y="66.0" width="33.0" height="71.5" fill="none" stroke="#e6e6e6" stroke-width="0.9"/>
<rect x="192.0" y="69.0" width="27.5" height="67.5" fill="url(#sffg)" stroke="#77777a" stroke-width="0.8"/>
<rect x="212.5" y="71.0" width="6.0" height="63.5" fill="#8d8d8a" />
<rect x="215.0" y="73.0" width="3.0" height="59.5" fill="#3a3a3a" />
<rect x="195.5" y="76.0" width="4.0" height="5.0" fill="none" stroke="#555" stroke-width="0.8"/>
<rect x="195.5" y="124.0" width="4.0" height="5.0" fill="none" stroke="#555" stroke-width="0.8"/>
<text x="203" y="112" font-size="4.2" fill="#777" transform="rotate(-90 203 112)">1385</text>
<text x="235.6" y="84.4" font-size="5.2" fill="#e8e8e8" font-weight="bold" textLength="38" lengthAdjust="spacingAndGlyphs" transform="rotate(90 235.6 84.4)">SFF-8611-8i-B</text>
<rect x="322.0" y="64.5" width="34.0" height="73.0" fill="#0d0d0e" stroke="#e6e6e6" stroke-width="0.9"/>
<rect x="331.0" y="73.0" width="3.2" height="57.0" fill="#77777a" />
<line x1="336.5" y1="73" x2="336.5" y2="130" stroke="#8a8a8a" stroke-width="2.6" stroke-dasharray="0.8 0.9"/>
<circle cx="327.0" cy="70.0" r="2.1" fill="#9a9a9a" stroke="#d8d8d8" stroke-width="0.6"/>
<circle cx="336.0" cy="70.0" r="2.1" fill="#9a9a9a" stroke="#d8d8d8" stroke-width="0.6"/>
<circle cx="344.0" cy="70.5" r="2.1" fill="#9a9a9a" stroke="#d8d8d8" stroke-width="0.6"/>
<circle cx="327.0" cy="132.0" r="2.1" fill="#9a9a9a" stroke="#d8d8d8" stroke-width="0.6"/>
<circle cx="336.0" cy="132.5" r="2.1" fill="#9a9a9a" stroke="#d8d8d8" stroke-width="0.6"/>
<circle cx="346.0" cy="131.0" r="2.1" fill="#9a9a9a" stroke="#d8d8d8" stroke-width="0.6"/>
<text x="368.8" y="84.6" font-size="5.2" fill="#e8e8e8" font-weight="bold" textLength="36" lengthAdjust="spacingAndGlyphs" transform="rotate(90 368.8 84.6)">SFF-8611-8i-B</text>
<path d="M365.6,58 L371.1,46 V38" stroke="#c9c9c9" stroke-width="3.6" fill="none" stroke-linecap="round"/>
<circle cx="371.8" cy="47.5" r="3.0" fill="#bdbdbd" stroke="#8a8a8a" stroke-width="0.6"/>
<circle cx="365.6" cy="58.0" r="4.3" fill="#d6d6d6" stroke="#8a8a8a" stroke-width="0.7"/>
<circle cx="365.6" cy="58.0" r="1.8" fill="#77777a" />
<path d="M378.8,58 L384.3,46 V38" stroke="#c9c9c9" stroke-width="3.6" fill="none" stroke-linecap="round"/>
<circle cx="385.0" cy="47.5" r="3.0" fill="#bdbdbd" stroke="#8a8a8a" stroke-width="0.6"/>
<circle cx="378.8" cy="58.0" r="4.3" fill="#d6d6d6" stroke="#8a8a8a" stroke-width="0.7"/>
<circle cx="378.8" cy="58.0" r="1.8" fill="#77777a" />
<path d="M392.0,58 L397.5,46 V38" stroke="#c9c9c9" stroke-width="3.6" fill="none" stroke-linecap="round"/>
<circle cx="398.2" cy="47.5" r="3.0" fill="#bdbdbd" stroke="#8a8a8a" stroke-width="0.6"/>
<circle cx="392.0" cy="58.0" r="4.3" fill="#d6d6d6" stroke="#8a8a8a" stroke-width="0.7"/>
<circle cx="392.0" cy="58.0" r="1.8" fill="#77777a" />
<path d="M405.2,58 L410.7,46 V38" stroke="#c9c9c9" stroke-width="3.6" fill="none" stroke-linecap="round"/>
<circle cx="411.4" cy="47.5" r="3.0" fill="#bdbdbd" stroke="#8a8a8a" stroke-width="0.6"/>
<circle cx="405.2" cy="58.0" r="4.3" fill="#d6d6d6" stroke="#8a8a8a" stroke-width="0.7"/>
<circle cx="405.2" cy="58.0" r="1.8" fill="#77777a" />
<path d="M418.4,58 L423.9,46 V38" stroke="#c9c9c9" stroke-width="3.6" fill="none" stroke-linecap="round"/>
<circle cx="424.6" cy="47.5" r="3.0" fill="#bdbdbd" stroke="#8a8a8a" stroke-width="0.6"/>
<circle cx="418.4" cy="58.0" r="4.3" fill="#d6d6d6" stroke="#8a8a8a" stroke-width="0.7"/>
<circle cx="418.4" cy="58.0" r="1.8" fill="#77777a" />
<path d="M431.6,58 L437.1,46 V38" stroke="#c9c9c9" stroke-width="3.6" fill="none" stroke-linecap="round"/>
<circle cx="437.8" cy="47.5" r="3.0" fill="#bdbdbd" stroke="#8a8a8a" stroke-width="0.6"/>
<circle cx="431.6" cy="58.0" r="4.3" fill="#d6d6d6" stroke="#8a8a8a" stroke-width="0.7"/>
<circle cx="431.6" cy="58.0" r="1.8" fill="#77777a" />
<path d="M444.8,58 L450.3,46 V38" stroke="#c9c9c9" stroke-width="3.6" fill="none" stroke-linecap="round"/>
<circle cx="451.0" cy="47.5" r="3.0" fill="#bdbdbd" stroke="#8a8a8a" stroke-width="0.6"/>
<circle cx="444.8" cy="58.0" r="4.3" fill="#d6d6d6" stroke="#8a8a8a" stroke-width="0.7"/>
<circle cx="444.8" cy="58.0" r="1.8" fill="#77777a" />
<path d="M458.0,58 L463.5,46 V38" stroke="#c9c9c9" stroke-width="3.6" fill="none" stroke-linecap="round"/>
<circle cx="464.2" cy="47.5" r="3.0" fill="#bdbdbd" stroke="#8a8a8a" stroke-width="0.6"/>
<circle cx="458.0" cy="58.0" r="4.3" fill="#d6d6d6" stroke="#8a8a8a" stroke-width="0.7"/>
<circle cx="458.0" cy="58.0" r="1.8" fill="#77777a" />
<path d="M471.2,58 L476.7,46 V38" stroke="#c9c9c9" stroke-width="3.6" fill="none" stroke-linecap="round"/>
<circle cx="477.4" cy="47.5" r="3.0" fill="#bdbdbd" stroke="#8a8a8a" stroke-width="0.6"/>
<circle cx="471.2" cy="58.0" r="4.3" fill="#d6d6d6" stroke="#8a8a8a" stroke-width="0.7"/>
<circle cx="471.2" cy="58.0" r="1.8" fill="#77777a" />
<path d="M484.4,58 L489.9,46 V38" stroke="#c9c9c9" stroke-width="3.6" fill="none" stroke-linecap="round"/>
<circle cx="490.6" cy="47.5" r="3.0" fill="#bdbdbd" stroke="#8a8a8a" stroke-width="0.6"/>
<circle cx="484.4" cy="58.0" r="4.3" fill="#d6d6d6" stroke="#8a8a8a" stroke-width="0.7"/>
<circle cx="484.4" cy="58.0" r="1.8" fill="#77777a" />
<path d="M497.6,58 L503.1,46 V38" stroke="#c9c9c9" stroke-width="3.6" fill="none" stroke-linecap="round"/>
<circle cx="503.8" cy="47.5" r="3.0" fill="#bdbdbd" stroke="#8a8a8a" stroke-width="0.6"/>
<circle cx="497.6" cy="58.0" r="4.3" fill="#d6d6d6" stroke="#8a8a8a" stroke-width="0.7"/>
<circle cx="497.6" cy="58.0" r="1.8" fill="#77777a" />
<path d="M510.8,58 L516.3,46 V38" stroke="#c9c9c9" stroke-width="3.6" fill="none" stroke-linecap="round"/>
<circle cx="517.0" cy="47.5" r="3.0" fill="#bdbdbd" stroke="#8a8a8a" stroke-width="0.6"/>
<circle cx="510.8" cy="58.0" r="4.3" fill="#d6d6d6" stroke="#8a8a8a" stroke-width="0.7"/>
<circle cx="510.8" cy="58.0" r="1.8" fill="#77777a" />
<text x="353.5" y="12" font-size="8" fill="#eee" transform="rotate(-90 353.5 12)">J2</text>
<rect x="481.0" y="128.5" width="18.0" height="7.4" fill="#f0f0f0" rx="3.7" stroke="#999" stroke-width="0.6"/>
<rect x="485.5" y="101.5" width="14.0" height="14.0" fill="#d9d9d9" />
<rect x="486.5" y="102.5" width="2.2" height="2.2" fill="#2a2a2a" />
<rect x="486.5" y="108.9" width="2.2" height="2.2" fill="#2a2a2a" />
<rect x="489.7" y="105.7" width="2.2" height="2.2" fill="#2a2a2a" />
<rect x="489.7" y="112.1" width="2.2" height="2.2" fill="#2a2a2a" />
<rect x="492.9" y="102.5" width="2.2" height="2.2" fill="#2a2a2a" />
<rect x="492.9" y="108.9" width="2.2" height="2.2" fill="#2a2a2a" />
<rect x="496.1" y="105.7" width="2.2" height="2.2" fill="#2a2a2a" />
<rect x="496.1" y="112.1" width="2.2" height="2.2" fill="#2a2a2a" />
<rect x="507.0" y="103.5" width="11.0" height="10.0" fill="#161616" stroke="#777" stroke-width="0.6"/>
<circle cx="513.0" cy="108.5" r="1.6" fill="#ddd" />
<circle cx="519.0" cy="114.5" r="1.2" fill="#ddd" />
<circle cx="515.5" cy="118.5" r="1.2" fill="#ddd" />
<circle cx="464.0" cy="126.0" r="0.9" fill="#ddd" />
<circle cx="472.5" cy="131.0" r="0.9" fill="#ddd" />
<text x="447.7" y="138.6" font-size="4.8" fill="#ddd" textLength="26" lengthAdjust="spacingAndGlyphs">POWER ON</text>
<text x="500" y="138.6" font-size="4.6" fill="#ddd" textLength="30" lengthAdjust="spacingAndGlyphs">ADD2PSU 24P</text>
</g>
<g transform="matrix(0.68834 0.72539 -0.73039 0.68303 507.4 107.9)">
<rect x="355.0" y="1.4" width="169.0" height="37.0" fill="url(#atxg)" />
<rect x="355.0" y="34.2" width="169.0" height="4.2" fill="#dcdcdc" opacity="0.9"/>
<rect x="355.0" y="1.4" width="3.0" height="37.0" fill="#e6e6e6" />
<rect x="521.0" y="1.4" width="3.0" height="37.0" fill="#e2e2e2" />
</g>
<g id="cable">
<path d="M349.4,566.0 C349.4,568.3 349.2,574.7 349.2,580.0 C349.2,585.3 349.3,592.0 349.5,597.9 C349.7,603.8 349.4,610.8 350.5,615.6 C351.6,620.4 352.9,623.7 356.0,626.5 C359.1,629.3 364.5,631.7 369.3,632.5 C374.1,633.3 379.1,632.6 385.0,631.3 C390.9,629.9 398.1,627.3 404.7,624.4 C411.2,621.5 417.8,617.7 424.3,613.6 C430.9,609.5 437.4,604.8 444.0,599.9 C450.6,595.0 457.4,589.0 463.6,584.1 C469.8,579.2 475.6,574.3 481.0,570.5 C486.4,566.7 493.5,563.0 496.0,561.5 L480.5,547.0 C478.4,548.9 473.0,553.7 467.6,558.6 C462.2,563.5 454.4,570.7 447.9,576.3 C441.3,581.9 434.9,587.4 428.3,592.0 C421.8,596.6 415.2,600.6 408.6,603.8 C402.1,607.0 395.6,609.4 389.0,611.2 C382.4,613.0 374.7,614.9 369.3,614.6 C363.9,614.3 359.2,612.3 356.5,609.5 C353.8,606.7 353.3,602.8 353.2,597.9 C353.1,593.0 355.1,585.3 356.0,580.0 C356.9,574.7 358.1,568.3 358.5,566.0 Z" fill="#0b0b0c"/>
<path d="M316.0,410.3 C319.1,410.6 328.3,411.2 334.3,412.2 C340.3,413.2 346.4,414.2 352.0,416.4 C357.6,418.6 362.8,421.8 367.7,425.2 C372.6,428.6 377.6,433.1 381.5,437.0 C385.4,440.9 388.9,445.0 391.0,448.8 C393.1,452.6 393.6,456.0 394.2,460.0 C394.8,464.0 394.9,468.7 394.6,473.0 C394.3,477.3 393.6,481.6 392.4,486.0 C391.2,490.4 389.1,495.4 387.4,499.6 C385.7,503.9 384.1,507.6 382.4,511.5 C380.7,515.4 379.5,518.0 377.4,523.2 C375.2,528.4 372.0,537.0 369.5,542.9 C367.0,548.8 364.3,554.1 362.5,558.6 C360.7,563.1 359.6,566.4 358.5,570.0 C357.4,573.6 356.4,578.3 356.0,580.0 L349.2,580.0 C349.2,578.3 348.9,574.2 349.3,570.0 C349.7,565.8 350.1,560.5 351.4,554.7 C352.6,548.9 355.1,540.8 356.8,535.0 C358.5,529.2 359.9,524.9 361.6,520.0 C363.3,515.1 365.2,510.0 367.0,505.5 C368.8,501.0 370.6,497.6 372.6,493.0 C374.6,488.4 377.0,482.8 379.0,478.0 C381.0,473.2 384.2,467.6 384.8,464.0 C385.4,460.4 384.5,459.5 382.6,456.6 C380.7,453.7 377.1,449.7 373.6,446.8 C370.1,443.9 365.7,441.1 361.8,439.0 C357.9,436.9 354.6,435.2 350.0,434.0 C345.4,432.8 340.0,431.9 334.3,431.5 C328.6,431.1 319.1,431.6 316.0,431.6 Z" fill="#0b0b0c"/>
<path d="M330,414 C350,415 372,425 386,446" fill="none" stroke="#2a2a2c" stroke-width="1.5"/>
<path d="M347.8,538.5 C352,543.5 356,545.5 360,543.5 C364,541.5 368,544 370.8,549.5" fill="none" stroke="#222" stroke-width="3.6" stroke-linecap="round"/>
<path d="M347.8,538.5 C352,543.5 356,545.5 360,543.5 C364,541.5 368,544 370.8,549.5" fill="none" stroke="#fff" stroke-width="1.8" stroke-linecap="round"/>
<rect x="287" y="409.3" width="30.6" height="23" fill="#101011" rx="1"/>
<rect x="252.8" y="400.8" width="10.5" height="40" fill="#d9c673"/>
<rect x="252.8" y="400.8" width="3.2" height="40" fill="#c7ae55"/>
<path d="M256.5,400.8 V440.8" stroke="#b89f4c" stroke-width="4" stroke-dasharray="1.4 1.3" fill="none" opacity="0.7"/>
<path d="M262,400.5 L268.5,398.7 H287.2 V444.8 H268.5 L262,442.5 Z" fill="#19191a"/>
<rect x="262" y="400.5" width="4.5" height="42" fill="#2c2c2e"/>
<path d="M262,430 H287.2 V444.8 H268.5 L262,442.5 Z" fill="#333335"/>
<path d="M264,416.5 H267.5 L269,415 H272 L273,416.5 H282 V429 H264 Z" fill="#f4f4f4"/>
<path d="M264.2,421 l3,-2.2 v1.6 h2.2 v1.6 h-2.2 v1.5 Z M268.2,426.5 h4.4 v2.4 h-4.4 Z" fill="#222"/>
<rect x="274.5" y="418" width="6.2" height="9.6" fill="#e0e0e0" stroke="#bbb" stroke-width="0.5"/>
<polygon points="478.6,547.6 505.7,521.5 522.4,537.2 495.4,563.4" fill="#121214"/>
<polygon points="522.3,488.2 534.1,478.3 566.6,511.7 555.7,522.6" fill="#55555c"/>
<polygon points="527.5,486.4 534.3,480.6 564.4,511.6 558,518" fill="#6b6b72" opacity="0.6"/>
<polygon points="493.9,511.7 521.4,486.2 559.7,520.6 530.2,550" fill="#222228"/>
<polygon points="503.5,513.5 520.5,497.5 546.5,521.5 529,538.5" fill="#1a1a22"/>
<polygon points="493.9,511.7 500.5,505.5 536.8,543.4 530.2,550" fill="#2c2c31"/>
<path d="M521.4,486.2 L559.7,520.6" stroke="#3d3d44" stroke-width="1.2" fill="none"/>
</g>
<g id="title">
<text x="464.3" y="33.4" font-size="42" text-anchor="middle" fill="#111" stroke="#111" stroke-width="1.5" stroke-linejoin="round" textLength="334" lengthAdjust="spacingAndGlyphs">Connection Guide</text>
<line x1="285" y1="46.8" x2="643.6" y2="46.8" stroke="#111" stroke-width="5.4" stroke-dasharray="10.2 2.15"/>
</g>
<g id="labels" class="dj" fill="#000" stroke="#000" stroke-width="0.7" stroke-linejoin="round">
<text class="dj" x="686.5" y="107.5" font-size="26" textLength="226.6" lengthAdjust="spacingAndGlyphs">to PCI-E device</text>
<text class="dj" x="771.6" y="137.6" font-size="26" textLength="59" lengthAdjust="spacingAndGlyphs">Like</text>
<text class="dj" x="687.8" y="167.7" font-size="26" textLength="225.3" lengthAdjust="spacingAndGlyphs">(Lan USB card)</text>
<text class="dj" x="431.3" y="453" font-size="29" textLength="136.7" lengthAdjust="spacingAndGlyphs">SFF-8611</text>
<text class="dj" x="530" y="884" font-size="20" textLength="180" lengthAdjust="spacingAndGlyphs">External graphics</text>
<text class="dj" x="548" y="914" font-size="20" textLength="149" lengthAdjust="spacingAndGlyphs">Card Test Data</text>
</g>
<polygon points="711.4,194.4 707.3,211.4 702.7,207.3 693.1,217 688.2,210.8 697.5,202.5 692.5,196.6" fill="#e51616" stroke="#c01010" stroke-width="0.6" stroke-linejoin="round"/>
<polygon points="579.7,471.8 575.5,489.3 571.4,484.3 561.4,494.4 556.5,488.2 567,479.5 560.7,473.8" fill="#e51616" stroke="#c01010" stroke-width="0.6" stroke-linejoin="round"/>
<line x1="573.5" y1="348" x2="554" y2="425" stroke="#d3202a" stroke-width="2.1"/>
<defs>
<linearGradient id="heroL" x1="0" y1="0" x2="1" y2="0"><stop offset="0" stop-color="#6e625d"/><stop offset="0.12" stop-color="#8a7568"/><stop offset="0.22" stop-color="#b48e75"/><stop offset="0.3" stop-color="#e3cdbd"/><stop offset="0.45" stop-color="#eee1d6"/><stop offset="0.62" stop-color="#ead9cd"/><stop offset="0.75" stop-color="#dcc0ae"/><stop offset="0.9" stop-color="#cfae9b"/><stop offset="1" stop-color="#b99683"/></linearGradient>
<radialGradient id="glass" cx="0.45" cy="0.4" r="0.7"><stop offset="0" stop-color="#f2f6f8"/><stop offset="0.7" stop-color="#dde7ee"/><stop offset="1" stop-color="#c3d3de"/></radialGradient>
<radialGradient id="helm" cx="0.4" cy="0.35" r="0.8"><stop offset="0" stop-color="#b9d0e0"/><stop offset="0.5" stop-color="#6f93b0"/><stop offset="1" stop-color="#41566a"/></radialGradient>
<clipPath id="heroclip"><rect x="153.8" y="689.7" width="277.4" height="94"/></clipPath>
<filter id="b1" x="-5%" y="-5%" width="110%" height="110%"><feGaussianBlur stdDeviation="0.9"/></filter>
<filter id="b2" x="-5%" y="-5%" width="110%" height="110%"><feGaussianBlur stdDeviation="0.35"/></filter>
</defs>
<g id="mark">
<rect x="39.2" y="654.0" width="399.4" height="289.6" fill="#dadada" />
<rect x="39.2" y="654.0" width="399.4" height="29.0" fill="#ffffff" />
<path d="M39.6,654 V943.4 H438.6" fill="none" stroke="#4a4a4a" stroke-width="1.1"/>
<path d="M39.6,654.2 H438.4 V943" fill="none" stroke="#c4c4c4" stroke-width="0.8"/>
<g opacity="0.5" filter="url(#b1)">
<rect x="41.0" y="684.0" width="6.0" height="258.0" fill="#cfcfcf" />
<rect x="150.0" y="684.0" width="4.0" height="258.0" fill="#e6e6e6" />
<rect x="200.0" y="684.0" width="60.0" height="5.0" fill="#e9e9e9" />
<rect x="300.0" y="844.0" width="100.0" height="6.0" fill="#e8e8e8" />
<rect x="432.0" y="690.0" width="6.0" height="250.0" fill="#e4e4e4" />
<rect x="60.0" y="684.0" width="40.0" height="5.0" fill="#c9c9c9" />
</g>
<rect x="42.0" y="656.0" width="3.4" height="4.6" fill="#222" />
<text x="46.2" y="660.6" font-size="4.2" fill="#555" textLength="31.5" lengthAdjust="spacingAndGlyphs">3DMark 进阶版本</text>
<g stroke="#555" stroke-width="0.6" fill="none"><path d="M405,658.6 h3.6"/><rect x="420.2" y="656.9" width="3.3" height="3.3"/><path d="M434.8,657 l3,3.2 M437.8,657 l-3,3.2"/></g>
<path d="M45.8,665.8 C50.5,667.2 54.5,669.6 56.8,673 C54,671.6 50.6,671 47.2,671.2 C51,672.2 54.2,673.6 57,675.4 C53.8,675.2 50.2,675.8 46.4,677.2 C50.2,677 53.4,677.6 55.4,679.4 C57.6,676.2 58.4,672.4 56.4,669.8 C54,667.4 50,666 45.8,665.8 Z" fill="#f08a1c"/>
<text x="59.6" y="676.3" font-size="8.4" font-weight="bold" fill="#1f1f1f" textLength="49" lengthAdjust="spacingAndGlyphs" style="font-family:'DejaVu Sans',sans-serif">3DMARK</text>
<g fill="#2b2b2b">
<path d="M341.4,666 l3,2.7 h-0.8 v2.9 h-1.5 v-1.8 h-1.4 v1.8 h-1.5 v-2.9 h-0.8 Z"/>
<path d="M359.6,671 a2.6,2.8 0 1 1 4.8,0" fill="none" stroke="#444" stroke-width="0.9"/>
<path d="M385,671.3 h5.6 v-1 h-5.6 Z M386,669.8 l1.8,-3.2 l1.8,3.2 Z"/>
<path d="M405.8,671.4 v-5 h1.1 v5 Z M407.6,671.4 v-3.4 h1.1 v3.4 Z M409.4,671.4 v-2.2 h1.1 v2.2 Z" fill="#f08a1c"/>
<circle cx="425.8" cy="668.8" r="2" fill="none" stroke="#333" stroke-width="1.3"/>
</g>
<g font-size="4.1" fill="#9a9a9a">
<text x="337.7" y="678.6" font-size="4.1" fill="#9a9a9a" textLength="7.6">主页</text>
<text x="354.1" y="678.6" font-size="4.1" fill="#9a9a9a" textLength="17">基准测试</text>
<text x="379.4" y="678.6" font-size="4.1" fill="#9a9a9a" textLength="17">压力测试</text>
<text x="403.9" y="678.6" font-size="4.1" fill="#f0a050" textLength="8.8">结果</text>
<text x="421.7" y="678.6" font-size="4.1" fill="#9a9a9a" textLength="8.2">选项</text>
</g>
<rect x="47.6" y="689.8" width="101.6" height="253.2" fill="#ffffff" />
<text x="52.6" y="699.3" font-size="5.4" fill="#444" font-weight="bold" textLength="36.5" lengthAdjust="spacingAndGlyphs">Time Spy 分数</text>
<circle cx="94.5" cy="696.9" r="2.4" fill="#7dc142"/>
<path d="M53.8,758.8 A45.5,45.5 0 0 1 144.8,758.8" fill="none" stroke="#a9a9a9" stroke-width="5.6"/>
<circle cx="53.6" cy="757.2" r="3.6" fill="#7dc142" stroke="#a8d986" stroke-width="0.8"/>
<text x="73" y="757" font-size="16.6" font-weight="bold" fill="#333" textLength="52.4" lengthAdjust="spacingAndGlyphs">16 436</text>
<text x="94.2" y="770.6" font-size="4.8" fill="#888" textLength="10.4">优秀</text>
<rect x="53.7" y="776.5" width="90.2" height="10.2" fill="#f6f6f6" />
<rect x="53.7" y="789.5" width="90.2" height="10.3" fill="#f6f6f6" />
<text x="55.5" y="783.0" font-size="4.2" fill="#555" font-weight="bold" textLength="48.4" lengthAdjust="spacingAndGlyphs">AMD Radeon RX 6800 XT</text>
<text x="55.5" y="796.4" font-size="4.2" fill="#555" font-weight="bold" textLength="53.4" lengthAdjust="spacingAndGlyphs">AMD Radeon(TM) Graphics</text>
<rect x="49.5" y="804.0" width="97.5" height="23.0" fill="#f8f8f8" />
<text x="55.2" y="816.4" font-size="4.8" fill="#666" textLength="19.5">您的分数</text>
<text x="93.7" y="816.4" font-size="4.8" fill="#666" textLength="9">平均</text>
<text x="123.4" y="816.4" font-size="4.8" fill="#666" textLength="9.6">最佳</text>
<circle cx="137" cy="814.6" r="1.7" fill="#777"/>
<text x="57.4" y="822.6" font-size="4" fill="#7ab51d" font-weight="bold" textLength="13.6">16 436</text>
<text x="97.5" y="822.6" font-size="4" fill="#888" >-</text>
<text x="130.5" y="822.6" font-size="4" fill="#888" >-</text>
<text x="83.4" y="850.8" font-size="5" fill="#777" textLength="27">无可用数据。</text>
<g stroke="#e6e6e6" stroke-width="0.6" stroke-dasharray="1.2 1">
<path d="M54,831.5 H145"/>
<path d="M54,837.5 H145"/>
<path d="M54,843.5 H145"/>
<path d="M54,855.5 H145"/>
<path d="M54,860 H145"/>
</g>
<text x="52.5" y="866.0" font-size="3.3" fill="#999" >0</text>
<text x="65.6" y="866.0" font-size="3.3" fill="#999" >2000</text>
<text x="79.7" y="866.0" font-size="3.3" fill="#999" >4000</text>
<text x="93.8" y="866.0" font-size="3.3" fill="#999" >6000</text>
<text x="107.9" y="866.0" font-size="3.3" fill="#999" >8000</text>
<text x="122.0" y="866.0" font-size="3.3" fill="#999" >10000</text>
<text x="136.1" y="866.0" font-size="3.3" fill="#999" >12000</text>
<path d="M51,870.5 H146" stroke="#e2e2e2" stroke-width="0.6"/>
<rect x="51.0" y="876.0" width="46.6" height="11.0" fill="#fff" stroke="#e0e0e0" stroke-width="0.6"/>
<rect x="98.6" y="876.0" width="46.2" height="11.0" fill="#fff" stroke="#e0e0e0" stroke-width="0.6"/>
<rect x="51.0" y="889.0" width="93.8" height="9.4" fill="#fff" stroke="#e0e0e0" stroke-width="0.6"/>
<text x="70.0" y="883.2" font-size="3.8" fill="#999" >加载</text>
<text x="118.0" y="883.2" font-size="3.8" fill="#999" >保存</text>
<text x="86.0" y="895.4" font-size="3.8" fill="#999" >在线比较结果</text>
<rect x="50.6" y="901.2" width="97.0" height="9.3" fill="#f47c1c" rx="1.2"/>
<text x="91.5" y="907.5" font-size="3.8" fill="#ffd9b5" >再次运行</text>
<g clip-path="url(#heroclip)">
<rect x="153.8" y="689.7" width="277.4" height="94.0" fill="url(#heroL)" />
<g filter="url(#b1)">
<path d="M252,689.7 C238,694 228,700 225,708 C221,722 216,736 210,748 C205,760 202,772 200,783.7 H372 C376,760 370,720 362,689.7 Z" fill="#f1e6dc"/>
<path d="M236,720 h10 v30 h-10 Z" fill="#f8efe4" opacity="0.8"/>
<path d="M153.8,689.7 H252 C238,694 228,700 225,708 C221,722 216,736 210,748 C205,760 202,772 200,783.7 H153.8 Z" fill="#a98570"/>
<path d="M153.8,689.7 H181 V783.7 H153.8 Z" fill="#8c776e"/>
<path d="M153.8,689.7 H235 C226,694 215,696 200,697 C190,704 184,716 181,724 H153.8 Z" fill="#6a5f5d" opacity="0.85"/>
<path d="M181,724 C186,712 196,704 206,700 C216,702 222,712 222,722 C218,740 208,756 198,776 C190,760 184,744 181,724 Z" fill="#c39a7c" opacity="0.9"/>
<path d="M158,700 h3 v60 h-3 Z M168,694 h2.4 v36 h-2.4 Z" fill="#5b5250" opacity="0.5"/>
<path d="M362,689.7 H431.2 V783.7 H372 C376,760 370,720 362,689.7 Z" fill="#dcc4b3"/>
<path d="M378,700 H418 V783.7 H380 Z" fill="#e7d3c5"/>
</g>
<g filter="url(#b2)">
<path d="M380.5,699 V783" stroke="#c7a695" stroke-width="1" opacity="0.75"/>
<path d="M384.2,699 V783" stroke="#c7a695" stroke-width="1" opacity="0.75"/>
<path d="M387.9,699 V783" stroke="#c7a695" stroke-width="1" opacity="0.75"/>
<path d="M391.6,699 V783" stroke="#c7a695" stroke-width="1" opacity="0.75"/>
<path d="M395.3,699 V783" stroke="#c7a695" stroke-width="1" opacity="0.75"/>
<path d="M399.0,699 V783" stroke="#c7a695" stroke-width="1" opacity="0.75"/>
<path d="M402.7,699 V783" stroke="#c7a695" stroke-width="1" opacity="0.75"/>
<path d="M406.4,699 V783" stroke="#c7a695" stroke-width="1" opacity="0.75"/>
<path d="M410.1,699 V783" stroke="#c7a695" stroke-width="1" opacity="0.75"/>
<path d="M413.8,699 V783" stroke="#c7a695" stroke-width="1" opacity="0.75"/>
<path d="M417.5,699 V783" stroke="#c7a695" stroke-width="1" opacity="0.75"/>
<path d="M419,694 C423,720 426,750 424.5,783.7 H431.2 V689.7 H417 Z" fill="#8e6d5e" opacity="0.75"/>
<path d="M421.5,700 C426,704 426,712 421.5,716 M422.5,722 C427,726 427,734 422.5,738 M423,746 C427.5,750 427.5,758 423,762" stroke="#6d4f44" stroke-width="1.1" fill="none" opacity="0.8"/>
<path d="M346,693 C356,690 370,693 380,690.5 C392,693 404,689.7 418,693 V701 C404,697 388,703 372,699 C364,697 354,699 346,703 Z" fill="#a58c8c" opacity="0.6"/>
<path d="M350,694 C352,708 350,722 354,738 M358,692 C362,700 360,712 364,722" stroke="#c4a497" stroke-width="1.4" fill="none" opacity="0.7"/>
<path d="M384,744 C392,736 404,734 414,740 C408,748 398,752 388,752 Z M392,762 C398,756 408,756 414,760 C408,768 398,768 392,762 Z" fill="#f2e4d8" opacity="0.85"/>
<circle cx="193.5" cy="705.7" r="0.44" fill="#f3d9bd" opacity="0.85"/>
<circle cx="203.7" cy="725.3" r="0.85" fill="#f3d9bd" opacity="0.85"/>
<circle cx="188.3" cy="699.8" r="0.43" fill="#d9ab88" opacity="0.85"/>
<circle cx="182.4" cy="730.6" r="0.46" fill="#8d6f5f" opacity="0.85"/>
<circle cx="188.7" cy="749.1" r="0.69" fill="#f3d9bd" opacity="0.85"/>
<circle cx="180.2" cy="770.1" r="0.61" fill="#f8e6d2" opacity="0.85"/>
<circle cx="204.0" cy="744.0" r="0.81" fill="#8d6f5f" opacity="0.85"/>
<circle cx="186.7" cy="744.9" r="0.59" fill="#e8c3a0" opacity="0.85"/>
<circle cx="204.3" cy="697.7" r="0.71" fill="#f3d9bd" opacity="0.85"/>
<circle cx="201.8" cy="740.4" r="0.63" fill="#f8e6d2" opacity="0.85"/>
<circle cx="222.3" cy="724.9" r="0.80" fill="#e8c3a0" opacity="0.85"/>
<circle cx="211.6" cy="714.2" r="0.55" fill="#8d6f5f" opacity="0.85"/>
<circle cx="201.8" cy="723.3" r="0.54" fill="#d9ab88" opacity="0.85"/>
<circle cx="225.0" cy="702.7" r="0.48" fill="#d9ab88" opacity="0.85"/>
<circle cx="194.4" cy="776.9" r="0.42" fill="#d9ab88" opacity="0.85"/>
<circle cx="193.1" cy="755.3" r="0.65" fill="#8d6f5f" opacity="0.85"/>
<circle cx="216.3" cy="698.3" r="0.87" fill="#f3d9bd" opacity="0.85"/>
<circle cx="200.8" cy="752.4" r="0.77" fill="#f3d9bd" opacity="0.85"/>
<circle cx="192.9" cy="744.6" r="0.54" fill="#d9ab88" opacity="0.85"/>
<circle cx="196.5" cy="752.8" r="0.87" fill="#f3d9bd" opacity="0.85"/>
<circle cx="195.1" cy="747.6" r="0.43" fill="#d9ab88" opacity="0.85"/>
<circle cx="214.9" cy="703.8" r="0.60" fill="#e8c3a0" opacity="0.85"/>
<circle cx="186.0" cy="728.5" r="0.84" fill="#f8e6d2" opacity="0.85"/>
<circle cx="191.4" cy="729.8" r="0.74" fill="#f8e6d2" opacity="0.85"/>
<circle cx="196.3" cy="713.0" r="0.49" fill="#f3d9bd" opacity="0.85"/>
<circle cx="189.1" cy="713.2" r="0.82" fill="#d9ab88" opacity="0.85"/>
<circle cx="186.8" cy="717.7" r="0.61" fill="#e8c3a0" opacity="0.85"/>
<circle cx="195.7" cy="743.5" r="0.75" fill="#e8c3a0" opacity="0.85"/>
<circle cx="202.7" cy="748.2" r="0.63" fill="#f3d9bd" opacity="0.85"/>
<circle cx="210.7" cy="742.9" r="0.60" fill="#d9ab88" opacity="0.85"/>
<circle cx="183.0" cy="749.7" r="0.50" fill="#f3d9bd" opacity="0.85"/>
<circle cx="183.3" cy="746.7" r="0.40" fill="#f3d9bd" opacity="0.85"/>
<circle cx="185.3" cy="701.2" r="0.71" fill="#f8e6d2" opacity="0.85"/>
<circle cx="181.4" cy="710.9" r="0.47" fill="#d9ab88" opacity="0.85"/>
<circle cx="190.1" cy="723.6" r="0.64" fill="#f8e6d2" opacity="0.85"/>
<circle cx="183.5" cy="736.4" r="0.64" fill="#d9ab88" opacity="0.85"/>
<circle cx="193.0" cy="705.1" r="0.77" fill="#f8e6d2" opacity="0.85"/>
<circle cx="201.0" cy="755.0" r="0.41" fill="#8d6f5f" opacity="0.85"/>
<circle cx="185.0" cy="741.4" r="0.78" fill="#f3d9bd" opacity="0.85"/>
<circle cx="192.3" cy="750.5" r="0.75" fill="#f3d9bd" opacity="0.85"/>
<circle cx="190.5" cy="725.4" r="0.58" fill="#e8c3a0" opacity="0.85"/>
<circle cx="188.7" cy="741.3" r="0.56" fill="#8d6f5f" opacity="0.85"/>
<circle cx="188.7" cy="765.8" r="0.80" fill="#e8c3a0" opacity="0.85"/>
<circle cx="188.9" cy="739.1" r="0.77" fill="#f8e6d2" opacity="0.85"/>
<circle cx="200.7" cy="709.6" r="0.88" fill="#8d6f5f" opacity="0.85"/>
<circle cx="195.5" cy="712.1" r="0.64" fill="#e8c3a0" opacity="0.85"/>
<circle cx="194.2" cy="735.9" r="0.82" fill="#8d6f5f" opacity="0.85"/>
<circle cx="201.0" cy="751.4" r="0.82" fill="#f3d9bd" opacity="0.85"/>
<circle cx="183.8" cy="727.4" r="0.64" fill="#e8c3a0" opacity="0.85"/>
<circle cx="186.6" cy="763.8" r="0.44" fill="#f8e6d2" opacity="0.85"/>
<circle cx="200.2" cy="759.6" r="0.76" fill="#f3d9bd" opacity="0.85"/>
<circle cx="186.2" cy="703.6" r="0.70" fill="#e8c3a0" opacity="0.85"/>
<circle cx="200.3" cy="751.7" r="0.81" fill="#8d6f5f" opacity="0.85"/>
<circle cx="194.8" cy="741.9" r="0.41" fill="#e8c3a0" opacity="0.85"/>
<circle cx="182.9" cy="760.2" r="0.62" fill="#e8c3a0" opacity="0.85"/>
<circle cx="188.1" cy="714.9" r="0.65" fill="#f8e6d2" opacity="0.85"/>
<circle cx="214.7" cy="721.7" r="0.61" fill="#8d6f5f" opacity="0.85"/>
<circle cx="184.3" cy="774.8" r="0.85" fill="#f8e6d2" opacity="0.85"/>
<circle cx="202.8" cy="767.3" r="0.47" fill="#8d6f5f" opacity="0.85"/>
<circle cx="185.3" cy="738.5" r="0.79" fill="#d9ab88" opacity="0.85"/>
<circle cx="185.2" cy="704.9" r="0.76" fill="#8d6f5f" opacity="0.85"/>
<circle cx="204.7" cy="721.7" r="0.67" fill="#8d6f5f" opacity="0.85"/>
<circle cx="201.2" cy="762.7" r="0.43" fill="#8d6f5f" opacity="0.85"/>
<circle cx="187.2" cy="695.8" r="0.65" fill="#f3d9bd" opacity="0.85"/>
<circle cx="205.0" cy="761.2" r="0.62" fill="#f3d9bd" opacity="0.85"/>
<circle cx="207.4" cy="738.0" r="0.50" fill="#8d6f5f" opacity="0.85"/>
<circle cx="191.3" cy="738.2" r="0.65" fill="#d9ab88" opacity="0.85"/>
<circle cx="189.9" cy="739.6" r="0.86" fill="#f8e6d2" opacity="0.85"/>
<circle cx="220.9" cy="710.4" r="0.47" fill="#d9ab88" opacity="0.85"/>
<circle cx="183.8" cy="732.2" r="0.74" fill="#f3d9bd" opacity="0.85"/>
<circle cx="198.6" cy="711.4" r="0.79" fill="#f8e6d2" opacity="0.85"/>
<circle cx="221.1" cy="706.1" r="0.47" fill="#f8e6d2" opacity="0.85"/>
<circle cx="188.5" cy="778.7" r="0.84" fill="#d9ab88" opacity="0.85"/>
<circle cx="185.8" cy="752.8" r="0.48" fill="#e8c3a0" opacity="0.85"/>
<circle cx="198.7" cy="738.9" r="0.61" fill="#f8e6d2" opacity="0.85"/>
<circle cx="195.1" cy="700.4" r="0.41" fill="#f8e6d2" opacity="0.85"/>
<circle cx="204.6" cy="732.1" r="0.59" fill="#f3d9bd" opacity="0.85"/>
<circle cx="202.8" cy="718.9" r="0.46" fill="#f3d9bd" opacity="0.85"/>
<circle cx="222.1" cy="712.8" r="0.44" fill="#f3d9bd" opacity="0.85"/>
<circle cx="191.1" cy="774.4" r="0.54" fill="#e8c3a0" opacity="0.85"/>
<circle cx="184.2" cy="730.4" r="0.60" fill="#f8e6d2" opacity="0.85"/>
<circle cx="203.8" cy="738.8" r="0.75" fill="#d9ab88" opacity="0.85"/>
<circle cx="182.3" cy="697.2" r="0.61" fill="#e8c3a0" opacity="0.85"/>
<circle cx="181.5" cy="777.4" r="0.80" fill="#f3d9bd" opacity="0.85"/>
<circle cx="182.0" cy="769.9" r="0.53" fill="#f3d9bd" opacity="0.85"/>
<circle cx="183.8" cy="693.1" r="0.61" fill="#8d6f5f" opacity="0.85"/>
<circle cx="180.1" cy="756.6" r="0.88" fill="#f3d9bd" opacity="0.85"/>
<circle cx="190.6" cy="708.5" r="0.71" fill="#f8e6d2" opacity="0.85"/>
<circle cx="203.5" cy="710.7" r="0.65" fill="#d9ab88" opacity="0.85"/>
<circle cx="186.5" cy="723.6" r="0.90" fill="#f3d9bd" opacity="0.85"/>
<circle cx="179.8" cy="693.7" r="0.68" fill="#8d6f5f" opacity="0.85"/>
<circle cx="187.1" cy="735.2" r="0.45" fill="#d9ab88" opacity="0.85"/>
<circle cx="217.3" cy="731.3" r="0.67" fill="#d9ab88" opacity="0.85"/>
<circle cx="192.8" cy="711.6" r="0.57" fill="#e8c3a0" opacity="0.85"/>
<circle cx="208.5" cy="728.8" r="0.89" fill="#f8e6d2" opacity="0.85"/>
<circle cx="218.2" cy="693.3" r="0.62" fill="#f8e6d2" opacity="0.85"/>
<circle cx="180.7" cy="752.5" r="0.84" fill="#d9ab88" opacity="0.85"/>
<circle cx="210.2" cy="717.7" r="0.75" fill="#e8c3a0" opacity="0.85"/>
<circle cx="180.2" cy="708.9" r="0.62" fill="#f8e6d2" opacity="0.85"/>
<circle cx="190.6" cy="779.5" r="0.56" fill="#8d6f5f" opacity="0.85"/>
<circle cx="179.7" cy="772.3" r="0.58" fill="#e8c3a0" opacity="0.85"/>
<circle cx="178.1" cy="726.7" r="0.54" fill="#d9ab88" opacity="0.85"/>
<circle cx="209.5" cy="714.6" r="0.45" fill="#f3d9bd" opacity="0.85"/>
<circle cx="217.2" cy="705.1" r="0.42" fill="#8d6f5f" opacity="0.85"/>
<circle cx="179.1" cy="719.7" r="0.44" fill="#e8c3a0" opacity="0.85"/>
<circle cx="185.5" cy="773.2" r="0.59" fill="#8d6f5f" opacity="0.85"/>
<circle cx="193.7" cy="781.6" r="0.54" fill="#e8c3a0" opacity="0.85"/>
<circle cx="207.7" cy="705.2" r="0.71" fill="#8d6f5f" opacity="0.85"/>
<circle cx="184.7" cy="739.7" r="0.68" fill="#8d6f5f" opacity="0.85"/>
<circle cx="217.0" cy="693.5" r="0.80" fill="#8d6f5f" opacity="0.85"/>
<circle cx="208.9" cy="699.7" r="0.47" fill="#f3d9bd" opacity="0.85"/>
<circle cx="195.3" cy="701.5" r="0.68" fill="#d9ab88" opacity="0.85"/>
<circle cx="208.1" cy="749.0" r="0.64" fill="#e8c3a0" opacity="0.85"/>
<circle cx="178.2" cy="764.6" r="0.85" fill="#8d6f5f" opacity="0.85"/>
<circle cx="182.4" cy="739.9" r="0.53" fill="#d9ab88" opacity="0.85"/>
<circle cx="181.6" cy="716.2" r="0.52" fill="#e8c3a0" opacity="0.85"/>
<circle cx="209.2" cy="733.9" r="0.44" fill="#d9ab88" opacity="0.85"/>
<circle cx="221.7" cy="718.1" r="0.71" fill="#f3d9bd" opacity="0.85"/>
<circle cx="208.9" cy="699.0" r="0.57" fill="#e8c3a0" opacity="0.85"/>
<circle cx="209.3" cy="755.1" r="0.68" fill="#8d6f5f" opacity="0.85"/>
<circle cx="178.6" cy="697.5" r="0.89" fill="#f8e6d2" opacity="0.85"/>
<circle cx="182.8" cy="711.8" r="0.55" fill="#d9ab88" opacity="0.85"/>
<circle cx="202.8" cy="734.3" r="0.78" fill="#d9ab88" opacity="0.85"/>
<circle cx="193.0" cy="699.8" r="0.41" fill="#d9ab88" opacity="0.85"/>
<circle cx="200.0" cy="766.6" r="0.90" fill="#d9ab88" opacity="0.85"/>
<circle cx="196.6" cy="775.4" r="0.44" fill="#e8c3a0" opacity="0.85"/>
<circle cx="182.3" cy="760.0" r="0.88" fill="#f8e6d2" opacity="0.85"/>
<circle cx="184.4" cy="766.6" r="0.54" fill="#8d6f5f" opacity="0.85"/>
<circle cx="183.4" cy="725.2" r="0.85" fill="#d9ab88" opacity="0.85"/>
<circle cx="201.3" cy="694.3" r="0.87" fill="#f3d9bd" opacity="0.85"/>
<circle cx="210.7" cy="728.9" r="0.61" fill="#e8c3a0" opacity="0.85"/>
<circle cx="196.1" cy="703.0" r="0.40" fill="#f8e6d2" opacity="0.85"/>
<circle cx="183.8" cy="776.3" r="0.85" fill="#f3d9bd" opacity="0.85"/>
<circle cx="191.9" cy="725.9" r="0.60" fill="#d9ab88" opacity="0.85"/>
<circle cx="219.8" cy="699.0" r="0.78" fill="#d9ab88" opacity="0.85"/>
<circle cx="219.0" cy="717.5" r="0.82" fill="#f3d9bd" opacity="0.85"/>
<circle cx="191.7" cy="777.1" r="0.89" fill="#e8c3a0" opacity="0.85"/>
<circle cx="198.9" cy="720.7" r="0.79" fill="#f8e6d2" opacity="0.85"/>
<circle cx="198.5" cy="694.6" r="0.86" fill="#d9ab88" opacity="0.85"/>
<circle cx="212.5" cy="696.5" r="0.63" fill="#d9ab88" opacity="0.85"/>
<circle cx="191.7" cy="696.5" r="0.46" fill="#8d6f5f" opacity="0.85"/>
<circle cx="166.8" cy="705.1" r="0.55" fill="#4f4746" opacity="0.8"/>
<circle cx="173.5" cy="716.8" r="0.79" fill="#4f4746" opacity="0.8"/>
<circle cx="162.5" cy="713.2" r="0.47" fill="#4f4746" opacity="0.8"/>
<circle cx="171.1" cy="694.9" r="0.94" fill="#8f8480" opacity="0.8"/>
<circle cx="167.4" cy="700.4" r="1.00" fill="#4f4746" opacity="0.8"/>
<circle cx="166.2" cy="697.3" r="0.55" fill="#b7a9a4" opacity="0.8"/>
<circle cx="159.4" cy="713.1" r="0.54" fill="#4f4746" opacity="0.8"/>
<circle cx="161.5" cy="713.6" r="0.85" fill="#b7a9a4" opacity="0.8"/>
<circle cx="165.3" cy="707.7" r="0.53" fill="#8f8480" opacity="0.8"/>
<circle cx="161.8" cy="720.6" r="0.57" fill="#4f4746" opacity="0.8"/>
<circle cx="179.2" cy="696.8" r="0.72" fill="#8f8480" opacity="0.8"/>
<circle cx="174.8" cy="724.2" r="0.56" fill="#b7a9a4" opacity="0.8"/>
<circle cx="161.2" cy="707.2" r="0.66" fill="#4f4746" opacity="0.8"/>
<circle cx="162.8" cy="722.9" r="0.48" fill="#b7a9a4" opacity="0.8"/>
<circle cx="165.6" cy="721.0" r="0.98" fill="#4f4746" opacity="0.8"/>
<circle cx="167.2" cy="694.8" r="0.91" fill="#8f8480" opacity="0.8"/>
<circle cx="179.3" cy="701.4" r="0.53" fill="#b7a9a4" opacity="0.8"/>
<circle cx="158.8" cy="728.9" r="0.96" fill="#b7a9a4" opacity="0.8"/>
<circle cx="173.0" cy="716.6" r="0.45" fill="#4f4746" opacity="0.8"/>
<circle cx="174.4" cy="692.1" r="0.54" fill="#b7a9a4" opacity="0.8"/>
<circle cx="178.0" cy="716.5" r="0.98" fill="#4f4746" opacity="0.8"/>
<circle cx="170.7" cy="712.1" r="0.82" fill="#4f4746" opacity="0.8"/>
<circle cx="157.8" cy="694.7" r="0.97" fill="#8f8480" opacity="0.8"/>
<circle cx="159.8" cy="701.9" r="0.40" fill="#8f8480" opacity="0.8"/>
<circle cx="168.4" cy="729.9" r="0.98" fill="#4f4746" opacity="0.8"/>
<circle cx="171.1" cy="725.6" r="0.72" fill="#4f4746" opacity="0.8"/>
<circle cx="168.7" cy="693.1" r="0.82" fill="#4f4746" opacity="0.8"/>
<circle cx="162.7" cy="692.8" r="0.93" fill="#4f4746" opacity="0.8"/>
<circle cx="171.2" cy="695.1" r="0.80" fill="#b7a9a4" opacity="0.8"/>
<circle cx="178.1" cy="700.6" r="0.82" fill="#b7a9a4" opacity="0.8"/>
<circle cx="173.0" cy="705.8" r="0.52" fill="#4f4746" opacity="0.8"/>
<circle cx="174.9" cy="720.1" r="0.44" fill="#8f8480" opacity="0.8"/>
<circle cx="167.4" cy="699.6" r="0.54" fill="#b7a9a4" opacity="0.8"/>
<circle cx="160.5" cy="720.9" r="0.47" fill="#4f4746" opacity="0.8"/>
<circle cx="170.6" cy="715.2" r="0.69" fill="#b7a9a4" opacity="0.8"/>
<circle cx="177.8" cy="694.1" r="0.49" fill="#8f8480" opacity="0.8"/>
<circle cx="164.8" cy="700.1" r="0.49" fill="#8f8480" opacity="0.8"/>
<circle cx="156.3" cy="694.3" r="0.67" fill="#4f4746" opacity="0.8"/>
<circle cx="172.8" cy="703.9" r="1.00" fill="#b7a9a4" opacity="0.8"/>
<circle cx="178.3" cy="704.5" r="0.79" fill="#b7a9a4" opacity="0.8"/>
</g>
<rect x="203.8" y="753.2" width="227.4" height="30.6" fill="#85786f" opacity="0.55"/>
<g filter="url(#b2)">
<path d="M264,783.7 C264.5,772 268,760 274,754 C280,749 292,748 298,752 C303,757 305,770 305,783.7 Z" fill="#7d3f2c"/>
<path d="M272,783.7 C272,772 275,762 280,756 L286,760 L292,755 C297,762 299,772 299,783.7 Z" fill="#96503a"/>
<path d="M274,752 C270,758 267,768 267,783.7 h3 C270,770 272,760 277,754 Z" fill="#5a3a2c"/>
<path d="M275,738 C279,735 291,735 295,740 L298,752 C292,750 282,750 275,753 Z" fill="#5b7890"/>
<path d="M290,742 C296,744 302,748 305,754 L300,758 C296,752 292,748 288,747 Z" fill="#d8cbc0"/>
<ellipse cx="282.6" cy="723" rx="12.2" ry="13.2" fill="url(#helm)"/>
<path d="M272.5,722 C273.5,714 279,711 284,711.5 C282,718 279,727 276,733 C273.5,730 272,726 272.5,722 Z" fill="#d9c2a8" opacity="0.8"/>
<path d="M285,711 C291,712 294.5,718 294.5,724 C293,730 290,734 286,735.5 C288,728 288,718 285,711 Z" fill="#2f6aa3" opacity="0.9"/>
<path d="M300,770 C308,766 316,762 321,757 L330,760 C326,770 314,779 304,782 Z" fill="#c9b5a6"/>
<path d="M319.6,753 C319,748 323,745.6 327,746.4 C331.6,747.4 333.4,752 332.4,757 C331.4,762 327,765 323,763.6 C320.4,762 319.6,757 319.6,753 Z" fill="#3d5a74"/>
<path d="M218.8,748.8 L221.6,746.6 L236,757 L244,763.6 L247.6,771 L246,780 L240,783.7 L236,783.7 L236.5,773 L231,767.4 L220.5,752.6 Z" fill="#4a2f27"/>
<path d="M236,770 C240,768 246,770 247,776 C247,781 243,783.7 238,783.7 Z" fill="#3d2a24"/>
<path d="M322.6,743 L325.6,751" stroke="#9aa3ad" stroke-width="3" fill="none"/>
<ellipse cx="322.7" cy="719.4" rx="23.4" ry="23.8" fill="url(#glass)" stroke="#8a93a6" stroke-width="2.2"/>
<path d="M329,697.5 V741.6 M301,714.6 H344" stroke="#8d98a6" stroke-width="0.9" fill="none"/>
<path d="M305,728 l5,-7 l4,6 l4,-9 l5,10 l4,-7 l5,8 l5,-5" stroke="#c0cfdb" stroke-width="1.2" fill="none"/>
<path d="M308,736 C314,740 330,741 338,735 C334,742 312,743 308,736 Z" fill="#c5d3de"/>
</g>
<text x="258.6" y="771.6" font-size="12.6" font-weight="bold" fill="#ffffff" textLength="54.4" lengthAdjust="spacingAndGlyphs">TIME SPY</text>
<text x="314.5" y="771.6" font-size="3.2" fill="#ddd" >v1.2</text>
</g>
<rect x="153.8" y="788.0" width="136.2" height="26.4" fill="#ffffff" />
<rect x="153.8" y="816.8" width="136.2" height="26.4" fill="#ffffff" />
<text x="159.2" y="794.6" font-size="4.6" fill="#555" textLength="19.5">显卡分数</text>
<text x="159.2" y="823.4" font-size="4.6" fill="#444" font-weight="bold" textLength="20.5">CPU 分数</text>
<text x="207" y="808.4" font-size="10.8" font-weight="bold" fill="#333" textLength="30" lengthAdjust="spacingAndGlyphs">19 365</text>
<text x="209.5" y="836.6" font-size="10.8" font-weight="bold" fill="#333" textLength="24.4" lengthAdjust="spacingAndGlyphs">8 851</text>
<rect x="295.3" y="788.0" width="136.0" height="57.4" fill="#ffffff" />
<text x="300.4" y="797.0" font-size="5.2" fill="#666" textLength="41.5">预估的游戏性能</text>
<circle cx="423.2" cy="795" r="3" fill="#222"/>
<text x="422.5" y="796.7" font-size="4.6" font-weight="bold" fill="#fff">i</text>
<rect x="300.4" y="802.4" width="125.0" height="8.2" fill="#fbfaf8" stroke="#e2dccf" stroke-width="0.6"/>
<rect x="300.4" y="814.8" width="125.0" height="8.2" fill="#fbfaf8" stroke="#e0e0e0" stroke-width="0.6"/>
<text x="303.4" y="808.6" font-size="3.9" fill="#666" font-weight="bold">Battlefield V</text>
<text x="303.4" y="821.0" font-size="3.9" fill="#666" font-weight="bold">1440p Ultra</text>
<path d="M419.6,806 h3 l-1.5,1.6 Z M419.6,818.4 h3 l-1.5,1.6 Z" fill="#333"/>
<text x="342.4" y="840" font-size="11" font-weight="bold" fill="#333" textLength="41.4" lengthAdjust="spacingAndGlyphs">180+ FPS</text>
<rect x="153.8" y="850.4" width="277.4" height="92.6" fill="#ffffff" />
<text x="159.2" y="860.2" font-size="5.4" fill="#555" textLength="11.4">监控</text>
<path d="M425.2,855.6 v0.9 M425.2,857.6 v0.9 M425.2,859.6 v0.9" stroke="#777" stroke-width="0.9"/>
<path d="M173.6,868 V926" stroke="#999" stroke-width="0.7"/>
<path d="M173.6,925.8 H422" stroke="#e3d9a6" stroke-width="0.8"/>
<path d="M263.6,868 V926 M378.2,868 V926" stroke="#777" stroke-width="0.7"/>
<text x="164.5" y="881.6" font-size="2.6" fill="#aaa" text-anchor="end" transform="translate(7 0)">4000</text>
<path d="M172,880.6 h1.6" stroke="#bbb" stroke-width="0.5"/>
<text x="164.5" y="893.0" font-size="2.6" fill="#aaa" text-anchor="end" transform="translate(7 0)">3000</text>
<path d="M172,892 h1.6" stroke="#bbb" stroke-width="0.5"/>
<text x="164.5" y="904.4" font-size="2.6" fill="#aaa" text-anchor="end" transform="translate(7 0)">2000</text>
<path d="M172,903.4 h1.6" stroke="#bbb" stroke-width="0.5"/>
<text x="164.5" y="915.6" font-size="2.6" fill="#aaa" text-anchor="end" transform="translate(7 0)">1000</text>
<path d="M172,914.6 h1.6" stroke="#bbb" stroke-width="0.5"/>
<text x="164.5" y="927.0" font-size="2.6" fill="#aaa" text-anchor="end" transform="translate(7 0)">0</text>
<path d="M172,926 h1.6" stroke="#bbb" stroke-width="0.5"/>
<text x="161.0" y="905.0" font-size="3" fill="#aaa" transform="rotate(-90 161 905)">频率 (MHz)</text>
<text x="176.4" y="923.0" font-size="2.8" fill="#bbb" transform="rotate(-90 176.4 923)">图形测试 1</text>
<text x="266.4" y="923.0" font-size="2.8" fill="#bbb" transform="rotate(-90 266.4 923)">图形测试 2</text>
<text x="381.0" y="923.0" font-size="2.8" fill="#bbb" transform="rotate(-90 381 923)">CPU 测试</text>
<text x="172.0" y="931.4" font-size="2.8" fill="#aaa" >00:00</text>
<text x="233.0" y="931.4" font-size="2.8" fill="#aaa" >00:40</text>
<text x="294.0" y="931.4" font-size="2.8" fill="#aaa" >01:20</text>
<text x="356.0" y="931.4" font-size="2.8" fill="#aaa" >02:00</text>
<text x="416.0" y="931.4" font-size="2.8" fill="#aaa" >02:40</text>
<polyline points="174.5,874.4 177.5,874.3 180.5,874.5 183.5,874.4 186.5,874.3 189.5,874.5 192.5,874.9 195.5,874.8 198.5,874.8 201.5,874.4 204.5,874.6 207.5,874.4 210.5,874.4 213.5,874.3 216.5,874.4 219.5,874.9 222.5,874.8 225.5,874.8 228.5,874.8 231.5,874.4 234.5,874.5 237.5,874.7 240.5,874.8 243.5,874.8 246.5,874.9 249.5,874.3 252.5,874.7 255.5,874.7 258.5,874.6 261.5,874.4 263.0,874.6 263.6,875.6 264.2,875.5 267.2,875.3 270.2,875.8 273.2,875.7 276.2,875.5 279.2,875.4 282.2,875.7 285.2,875.5 288.2,875.7 291.2,875.7 294.2,875.5 297.2,875.4 300.2,875.6 303.2,875.5 306.2,875.3 309.2,875.4 312.2,875.7 315.2,875.2 318.2,875.2 321.2,875.6 324.2,875.4 327.2,875.5 330.2,875.5 333.2,875.4 336.2,875.8 339.2,875.3 342.2,875.4 345.2,875.3 348.2,875.6 351.2,875.4 354.2,875.4 357.2,875.6 360.2,875.4 363.2,875.5 366.2,875.7 369.2,875.3 372.2,875.2 375.2,875.3 377.0,875.5 377.4,876.0 378.0,887.0 378.5,895.0 379.2,884.0 380.0,875.6 383.0,875.4 387.0,876.6 390.0,878.6 393.0,877.4 396.0,881.6 398.0,878.8 401.0,880.4 404.0,879.6 407.0,881.8 409.5,880.0 411.0,875.0 412.5,874.6" fill="none" stroke="#877f9e" stroke-width="1.0"/>
<polyline points="174.5,898.9 177.5,898.9 180.5,898.7 183.5,898.7 186.5,898.6 189.5,898.8 192.5,898.6 195.5,898.9 198.5,899.0 201.5,899.0 204.5,898.9 207.5,899.0 209.0,898.8 210.5,899.6 212.0,900.8 214.5,900.4 216.5,899.0 218.0,898.7 221.0,898.8 224.0,899.1 227.0,899.0 230.0,898.9 233.0,899.1 236.0,899.0 239.0,899.1 242.0,898.8 245.0,898.7 248.0,898.9 251.0,898.7 254.0,898.8 257.0,899.1 260.0,898.8 261.0,898.9 262.0,899.2 263.2,901.6 264.4,899.6 266.0,899.0 269.0,899.0 272.0,899.0 275.0,899.3 278.0,899.1 281.0,899.1 284.0,899.0 287.0,899.4 290.0,899.2 293.0,899.1 296.0,899.0 299.0,899.0 302.0,899.0 305.0,899.3 308.0,899.0 311.0,899.0 314.0,899.2 317.0,899.1 320.0,899.4 323.0,899.0 326.0,899.2 329.0,899.3 332.0,899.2 335.0,899.4 338.0,899.2 341.0,899.1 344.0,899.2 347.0,899.0 350.0,899.2 353.0,899.1 356.0,899.4 359.0,899.4 362.0,899.2 365.0,899.0 368.0,899.1 371.0,899.1 374.0,899.1 376.5,899.2 377.6,900.0 378.6,902.2 380.0,902.4 381.0,902.4 384.0,902.6 387.0,902.4 390.0,902.3 393.0,902.7 396.0,902.5 399.0,902.7 402.0,902.5 405.0,902.7 408.0,902.6 411.0,902.6 412.0,902.5" fill="none" stroke="#ab93a3" stroke-width="1.0"/>
<rect x="161.6" y="936.6" width="41.8" height="1.5" fill="#ef8a3a" />
<text x="162.6" y="941.6" font-size="2.4" fill="#bbb" >GPU 频率 (MHz)</text>
<rect x="205.3" y="936.6" width="42.0" height="1.5" fill="#3fa9dc" />
<text x="206.3" y="941.6" font-size="2.4" fill="#bbb" >GPU 频率 (MHz)</text>
<rect x="249.2" y="936.6" width="41.3" height="1.5" fill="#b93a3f" />
<text x="250.2" y="941.6" font-size="2.4" fill="#bbb" >GPU 频率 (MHz)</text>
<rect x="292.4" y="936.6" width="42.1" height="1.5" fill="#7e55b8" />
<text x="293.4" y="941.6" font-size="2.4" fill="#bbb" >GPU 频率 (MHz)</text>
<rect x="336.4" y="936.6" width="40.6" height="1.5" fill="#e9d88c" />
<text x="337.4" y="941.6" font-size="2.4" fill="#bbb" >GPU 频率 (MHz)</text>
<rect x="378.9" y="936.6" width="44.4" height="1.5" fill="#d87aa8" />
<text x="379.9" y="941.6" font-size="2.4" fill="#bbb" >GPU 频率 (MHz)</text>
</g>
<defs>
<linearGradient id="cbg" x1="0" y1="0" x2="0" y2="1"><stop offset="0" stop-color="#2b2e34"/><stop offset="0.25" stop-color="#24272c"/><stop offset="0.6" stop-color="#16171a"/><stop offset="0.75" stop-color="#0f1012"/><stop offset="1" stop-color="#141517"/></linearGradient>
<linearGradient id="metal" x1="0" y1="0" x2="0" y2="1"><stop offset="0" stop-color="#b9b8b2"/><stop offset="0.5" stop-color="#a9a8a2"/><stop offset="1" stop-color="#9a9993"/></linearGradient>
<clipPath id="cclip"><rect x="567.3" y="633.2" width="286" height="153.2" rx="4"/></clipPath>
</defs>
<g id="conn">
<rect x="567.3" y="633.2" width="286.0" height="153.2" fill="url(#cbg)" rx="4"/>
<g clip-path="url(#cclip)">
<g stroke="#383b42" stroke-width="2" fill="none" opacity="0.55">
<path d="M600,640 l6,6 v8 l-5,5 M609,641 v14"/>
<path d="M618,640 l6,6 v8 l-5,5 M627,641 v14"/>
<path d="M636,640 l6,6 v8 l-5,5 M645,641 v14"/>
<path d="M654,640 l6,6 v8 l-5,5 M663,641 v14"/>
<path d="M672,640 l6,6 v8 l-5,5 M681,641 v14"/>
<path d="M690,640 l6,6 v8 l-5,5 M699,641 v14"/>
<path d="M708,640 l6,6 v8 l-5,5 M717,641 v14"/>
<path d="M726,640 l6,6 v8 l-5,5 M735,641 v14"/>
<path d="M744,640 l6,6 v8 l-5,5 M753,641 v14"/>
<path d="M762,640 l6,6 v8 l-5,5 M771,641 v14"/>
<path d="M780,640 l6,6 v8 l-5,5 M789,641 v14"/>
<path d="M798,640 l6,6 v8 l-5,5 M807,641 v14"/>
<path d="M816,640 l6,6 v8 l-5,5 M825,641 v14"/>
<path d="M570,652 l22,20 v30 M572,640 h280 M575,662 l14,14"/>
</g>
<ellipse cx="575.4" cy="648.2" rx="4.6" ry="3" fill="#e7e3c0" stroke="#6a6a55" stroke-width="0.8"/>
<path d="M606,686 H595.8 L587.2,738.5" fill="none" stroke="#e8e8e8" stroke-width="1.1"/>
<path d="M824,686 H830.2 L834.6,738.5" fill="none" stroke="#e8e8e8" stroke-width="1.1"/>
<path d="M829.5,669 L822.5,694" stroke="#c9c9c4" stroke-width="2" fill="none" stroke-linecap="round"/>
<rect x="606.0" y="731.0" width="214.0" height="8.0" fill="#0a0a0b" />
<path d="M601.5,716 L604,710 H820.5 L826,718 L819,733.4 H612 L601.5,722 Z" fill="#8d8c86"/>
<path d="M603,722.5 L612.5,732.2 H819.5" fill="none" stroke="#e4e4df" stroke-width="1.6"/>
<rect x="608.0" y="710.2" width="210.0" height="12.6" fill="#16171a" />
<rect x="612.0" y="714.5" width="202.0" height="2.2" fill="#2c2e33" />
<rect x="620.0" y="722.6" width="190.0" height="8.4" fill="#5c5b56" />
<rect x="620.0" y="722.6" width="190.0" height="2.0" fill="#3a3a38" />
<rect x="712.0" y="724.0" width="6.0" height="2.0" fill="#c8c8c2" />
<path d="M603,690 h6 v22 h-6 Z" fill="#8a8983"/>
<path d="M818,690 h4 v22 h-4 Z" fill="#8a8983"/>
<path d="M822,716 l4.5,3 l-4.5,3 Z" fill="none" stroke="#d0d0cb" stroke-width="1"/>
<path d="M612.5,663.8 H815.5 Q818.8,663.8 818.8,667 V709.5 H606.5 V700 L609,667 Q609.3,663.8 612.5,663.8 Z" fill="url(#metal)"/>
<path d="M606.5,708.6 H818.8" stroke="#c9c8c2" stroke-width="1.4"/>
<rect x="634.2" y="667.0" width="21.0" height="8.6" fill="#2a2a2a" />
<rect x="637.8" y="668.6" width="13.6" height="5.4" fill="#e9e9e6" />
<rect x="772.5" y="667.0" width="21.0" height="8.6" fill="#2a2a2a" />
<rect x="776.1" y="668.6" width="13.6" height="5.4" fill="#e9e9e6" />
<rect x="608.6" y="699.6" width="10.4" height="5.2" fill="#222" stroke="#d0d0cb" stroke-width="0.8"/>
<rect x="806.5" y="699.6" width="10.4" height="5.2" fill="#222" stroke="#d0d0cb" stroke-width="0.8"/>
<rect x="647.3" y="694.0" width="131.3" height="2.4" fill="#e6e6e2" />
<text x="690" y="677.4" font-size="10" fill="#2a2a2a" textLength="36.2" lengthAdjust="spacingAndGlyphs" style="font-family:'DejaVu Sans',sans-serif">1385</text>
<text x="0" y="0" font-size="12" fill="#ececec" stroke="#ececec" stroke-width="0.3" textLength="121" lengthAdjust="spacingAndGlyphs" transform="translate(771.3 760.9) rotate(180)" style="font-family:'DejaVu Sans',sans-serif">SFF-8611-8i-B</text>
</g>
<rect x="567.0" y="632.9" width="287.2" height="154.2" fill="none" rx="5" stroke="#d4212a" stroke-width="2.8"/>
<g stroke="#df222b" stroke-width="1.8" fill="none">
<path d="M604.3,736 V820 M821.8,736 V820 M605,815.6 H821"/>
<path d="M616,811.2 L605,815.6 L616,820 M810,811.2 L821,815.6 L810,820"/>
</g>
<text x="675.3" y="813.8" font-size="18" fill="#111" stroke="#111" stroke-width="0.35" textLength="66.5" lengthAdjust="spacingAndGlyphs">23.0mm</text>
</g>
</svg>
</body>
</html>
